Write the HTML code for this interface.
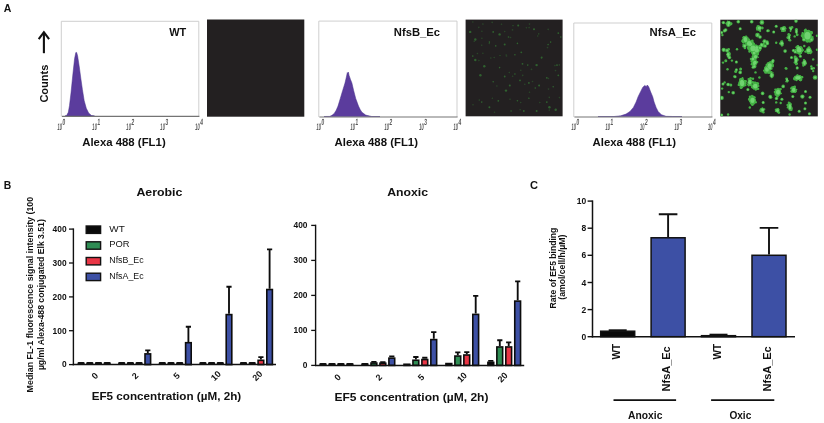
<!DOCTYPE html>
<html lang="en">
<head>
<meta charset="utf-8">
<title>Figure: EF5 binding in nitroreductase-expressing cells</title>
<style>
html,body{margin:0;padding:0;background:#fff;}
body{width:824px;height:423px;overflow:hidden;}
svg{display:block;font-family:"Liberation Sans", Arial, sans-serif;filter:blur(0.3px);}
</style>
</head>
<body>
<svg width="824" height="423" viewBox="0 0 824 423">
<rect width="824" height="423" fill="#ffffff"/>
<text x="3.80" y="11.90" font-size="10.2" font-weight="bold" fill="#111" textLength="7.60" lengthAdjust="spacingAndGlyphs">A</text>
<g stroke="#111" fill="none" stroke-width="2.1"><path d="M43.9 53.2V32.6"/><path d="M38.7 39.2L43.9 32.2L49.1 39.2" stroke-width="2.1"/></g>
<text x="48.20" y="102.60" font-size="10.5" font-weight="bold" fill="#111" textLength="38.00" lengthAdjust="spacingAndGlyphs" transform="rotate(-90 48.20 102.60)">Counts</text>
<path d="M61.3 116.4V21.3H198.8V116.4" fill="none" stroke="#c9c9c9" stroke-width="0.9"/>
<path d="M65.0 115.9 L66.6 115.6 L68.3 112.3 L69.5 105.5 L71.1 92.0 L72.9 74.0 L74.6 58.5 L75.8 52.6 L76.6 52.4 L77.6 55.8 L79.3 67.0 L80.8 78.2 L82.4 89.4 L84.2 100.7 L86.3 108.3 L88.6 112.9 L91.5 115.6 L94.5 115.9Z" fill="#5b3c9d" stroke="#46308a" stroke-width="0.5" stroke-linejoin="round"/>
<path d="M61.9 116.4H199.4" stroke="#747474" stroke-width="1.1"/>
<text x="169.20" y="36.20" font-size="10.5" font-weight="bold" fill="#111" textLength="17.00" lengthAdjust="spacingAndGlyphs">WT</text>
<g transform="translate(57.2 130.2) skewX(-4)" fill="#5a5a5a" font-weight="bold"><text transform="scale(0.43 1)" font-size="9.6">10</text><text transform="translate(4.7 -4.9) scale(0.56 1)" font-size="9">0</text></g>
<g transform="translate(92.1 130.2) skewX(-4)" fill="#5a5a5a" font-weight="bold"><text transform="scale(0.43 1)" font-size="9.6">10</text><text transform="translate(4.7 -4.9) scale(0.56 1)" font-size="9">1</text></g>
<g transform="translate(126.1 130.2) skewX(-4)" fill="#5a5a5a" font-weight="bold"><text transform="scale(0.43 1)" font-size="9.6">10</text><text transform="translate(4.7 -4.9) scale(0.56 1)" font-size="9">2</text></g>
<g transform="translate(160.1 130.2) skewX(-4)" fill="#5a5a5a" font-weight="bold"><text transform="scale(0.43 1)" font-size="9.6">10</text><text transform="translate(4.7 -4.9) scale(0.56 1)" font-size="9">3</text></g>
<g transform="translate(195.0 130.2) skewX(-4)" fill="#5a5a5a" font-weight="bold"><text transform="scale(0.43 1)" font-size="9.6">10</text><text transform="translate(4.7 -4.9) scale(0.56 1)" font-size="9">4</text></g>
<text x="82.20" y="146.10" font-size="10.6" font-weight="bold" fill="#111" textLength="83.50" lengthAdjust="spacingAndGlyphs">Alexa 488 (FL1)</text>
<path d="M318.8 117.0V21.1H457.0V117.0" fill="none" stroke="#c9c9c9" stroke-width="0.9"/>
<path d="M324.0 116.5 L329.6 116.4 L332.0 115.3 L334.2 113.5 L336.2 110.2 L338.0 106.1 L340.3 98.4 L342.6 90.7 L345.0 83.0 L346.6 76.0 L347.3 72.6 L347.9 73.6 L348.3 72.0 L349.1 75.4 L350.5 79.5 L351.9 83.0 L353.7 90.7 L355.7 98.4 L358.5 106.1 L360.2 109.6 L361.9 112.2 L365.7 115.1 L371.8 116.5 L380.0 116.5Z" fill="#5b3c9d" stroke="#46308a" stroke-width="0.5" stroke-linejoin="round"/>
<path d="M319.40000000000003 117.0H457.6" stroke="#747474" stroke-width="1.1"/>
<text x="393.80" y="36.40" font-size="10.5" font-weight="bold" fill="#111" textLength="46.20" lengthAdjust="spacingAndGlyphs">NfsB_Ec</text>
<g transform="translate(316.2 130.2) skewX(-4)" fill="#5a5a5a" font-weight="bold"><text transform="scale(0.43 1)" font-size="9.6">10</text><text transform="translate(4.7 -4.9) scale(0.56 1)" font-size="9">0</text></g>
<g transform="translate(350.2 130.2) skewX(-4)" fill="#5a5a5a" font-weight="bold"><text transform="scale(0.43 1)" font-size="9.6">10</text><text transform="translate(4.7 -4.9) scale(0.56 1)" font-size="9">1</text></g>
<g transform="translate(384.2 130.2) skewX(-4)" fill="#5a5a5a" font-weight="bold"><text transform="scale(0.43 1)" font-size="9.6">10</text><text transform="translate(4.7 -4.9) scale(0.56 1)" font-size="9">2</text></g>
<g transform="translate(419.0 130.2) skewX(-4)" fill="#5a5a5a" font-weight="bold"><text transform="scale(0.43 1)" font-size="9.6">10</text><text transform="translate(4.7 -4.9) scale(0.56 1)" font-size="9">3</text></g>
<g transform="translate(453.2 130.2) skewX(-4)" fill="#5a5a5a" font-weight="bold"><text transform="scale(0.43 1)" font-size="9.6">10</text><text transform="translate(4.7 -4.9) scale(0.56 1)" font-size="9">4</text></g>
<text x="334.50" y="146.10" font-size="10.6" font-weight="bold" fill="#111" textLength="83.50" lengthAdjust="spacingAndGlyphs">Alexa 488 (FL1)</text>
<path d="M573.8 117.0V23.0H711.8V117.0" fill="none" stroke="#c9c9c9" stroke-width="0.9"/>
<path d="M598.0 116.5 L608.0 116.5 L614.0 116.5 L620.7 115.8 L626.0 114.1 L630.0 111.4 L633.4 107.4 L636.1 102.0 L638.1 96.7 L640.7 91.4 L642.7 87.4 L644.7 85.4 L646.1 86.4 L647.4 85.1 L648.7 86.7 L650.7 92.0 L652.7 96.7 L654.1 102.0 L656.1 107.4 L658.1 111.4 L661.4 114.7 L666.1 116.3 L672.8 116.5 L682.0 116.5Z" fill="#5b3c9d" stroke="#46308a" stroke-width="0.5" stroke-linejoin="round"/>
<path d="M574.4 117.0H712.4" stroke="#747474" stroke-width="1.1"/>
<text x="649.50" y="36.30" font-size="10.5" font-weight="bold" fill="#111" textLength="46.50" lengthAdjust="spacingAndGlyphs">NfsA_Ec</text>
<g transform="translate(571.2 130.2) skewX(-4)" fill="#5a5a5a" font-weight="bold"><text transform="scale(0.43 1)" font-size="9.6">10</text><text transform="translate(4.7 -4.9) scale(0.56 1)" font-size="9">0</text></g>
<g transform="translate(605.2 130.2) skewX(-4)" fill="#5a5a5a" font-weight="bold"><text transform="scale(0.43 1)" font-size="9.6">10</text><text transform="translate(4.7 -4.9) scale(0.56 1)" font-size="9">1</text></g>
<g transform="translate(639.7 130.2) skewX(-4)" fill="#5a5a5a" font-weight="bold"><text transform="scale(0.43 1)" font-size="9.6">10</text><text transform="translate(4.7 -4.9) scale(0.56 1)" font-size="9">2</text></g>
<g transform="translate(674.2 130.2) skewX(-4)" fill="#5a5a5a" font-weight="bold"><text transform="scale(0.43 1)" font-size="9.6">10</text><text transform="translate(4.7 -4.9) scale(0.56 1)" font-size="9">3</text></g>
<g transform="translate(707.7 130.2) skewX(-4)" fill="#5a5a5a" font-weight="bold"><text transform="scale(0.43 1)" font-size="9.6">10</text><text transform="translate(4.7 -4.9) scale(0.56 1)" font-size="9">4</text></g>
<text x="592.50" y="146.10" font-size="10.6" font-weight="bold" fill="#111" textLength="83.50" lengthAdjust="spacingAndGlyphs">Alexa 488 (FL1)</text>
<rect x="207" y="19.5" width="97.3" height="97.2" fill="#232021"/>
<rect x="465.6" y="19.6" width="97" height="96.7" fill="#232021"/>
<rect x="720.3" y="19.7" width="97.5" height="96.7" fill="#232021"/>
<filter id="bl1" x="-5%" y="-5%" width="110%" height="110%"><feGaussianBlur stdDeviation="0.45"/></filter>
<filter id="bl2" x="-5%" y="-5%" width="110%" height="110%"><feGaussianBlur stdDeviation="0.4"/></filter>
<g fill="#347a34" opacity="0.72" filter="url(#bl1)">
<circle cx="518.2" cy="25.5" r="1.0"/>
<circle cx="493.2" cy="31.9" r="0.9"/>
<circle cx="499.6" cy="34.4" r="1.2"/>
<circle cx="508.5" cy="37.0" r="0.8"/>
<circle cx="489.4" cy="42.1" r="0.8"/>
<circle cx="495.7" cy="45.9" r="0.8"/>
<circle cx="504.7" cy="44.6" r="1.0"/>
<circle cx="517.4" cy="43.4" r="0.8"/>
<circle cx="521.3" cy="52.3" r="0.9"/>
<circle cx="514.9" cy="54.8" r="0.8"/>
<circle cx="472.8" cy="56.1" r="0.8"/>
<circle cx="475.3" cy="60.0" r="1.2"/>
<circle cx="484.3" cy="66.3" r="1.2"/>
<circle cx="499.6" cy="67.6" r="0.8"/>
<circle cx="522.5" cy="63.8" r="0.9"/>
<circle cx="527.7" cy="65.1" r="0.8"/>
<circle cx="536.6" cy="65.1" r="1.2"/>
<circle cx="548.1" cy="44.6" r="0.8"/>
<circle cx="550.6" cy="42.1" r="0.8"/>
<circle cx="558.3" cy="33.1" r="0.9"/>
<circle cx="560.8" cy="37.0" r="0.8"/>
<circle cx="480.4" cy="75.3" r="1.2"/>
<circle cx="493.2" cy="81.7" r="0.8"/>
<circle cx="504.7" cy="76.5" r="0.9"/>
<circle cx="514.9" cy="74.0" r="0.8"/>
<circle cx="520.0" cy="80.4" r="0.9"/>
<circle cx="509.8" cy="85.5" r="1.0"/>
<circle cx="506.0" cy="90.6" r="1.2"/>
<circle cx="528.9" cy="82.9" r="0.9"/>
<circle cx="535.3" cy="88.0" r="0.8"/>
<circle cx="539.1" cy="85.5" r="1.0"/>
<circle cx="546.8" cy="77.8" r="0.9"/>
<circle cx="553.2" cy="86.8" r="0.8"/>
<circle cx="498.3" cy="100.8" r="0.9"/>
<circle cx="489.4" cy="107.2" r="1.0"/>
<circle cx="481.7" cy="102.1" r="0.8"/>
<circle cx="517.4" cy="100.8" r="0.8"/>
<circle cx="528.9" cy="98.2" r="0.8"/>
<circle cx="546.8" cy="102.1" r="0.9"/>
<circle cx="549.4" cy="107.2" r="1.2"/>
<circle cx="555.7" cy="109.7" r="1.2"/>
<circle cx="536.6" cy="111.0" r="1.0"/>
<circle cx="475.3" cy="39.5" r="1.2"/>
<circle cx="470.2" cy="31.9" r="1.2"/>
<circle cx="534.0" cy="29.3" r="1.0"/>
<circle cx="541.7" cy="57.4" r="1.0"/>
<circle cx="557.0" cy="65.1" r="0.9"/>
<circle cx="558.3" cy="75.3" r="0.9"/>
<circle cx="523.8" cy="111.0" r="0.9"/>
<circle cx="511.1" cy="111.0" r="0.8"/>
</g><g fill="#2f5f2f" opacity="0.6" filter="url(#bl1)">
<circle cx="520.8" cy="70.3" r="0.8"/>
<circle cx="548.5" cy="89.1" r="0.8"/>
<circle cx="494.5" cy="112.2" r="0.8"/>
<circle cx="478.9" cy="60.5" r="0.8"/>
<circle cx="537.7" cy="36.0" r="0.8"/>
<circle cx="513.0" cy="25.6" r="0.8"/>
<circle cx="529.5" cy="92.3" r="0.8"/>
<circle cx="520.7" cy="102.5" r="0.8"/>
<circle cx="496.9" cy="86.0" r="0.8"/>
<circle cx="522.7" cy="75.4" r="0.8"/>
<circle cx="510.0" cy="99.3" r="0.8"/>
<circle cx="554.9" cy="65.6" r="0.8"/>
<circle cx="529.1" cy="27.6" r="0.8"/>
<circle cx="532.5" cy="81.5" r="0.8"/>
<circle cx="559.4" cy="97.6" r="0.8"/>
<circle cx="494.2" cy="57.5" r="0.8"/>
<circle cx="529.5" cy="24.1" r="0.8"/>
<circle cx="510.5" cy="37.5" r="0.8"/>
<circle cx="478.8" cy="27.4" r="0.8"/>
<circle cx="538.7" cy="33.9" r="0.8"/>
<circle cx="490.8" cy="58.0" r="0.8"/>
<circle cx="548.2" cy="29.4" r="0.8"/>
<circle cx="509.3" cy="72.5" r="0.8"/>
<circle cx="549.3" cy="97.4" r="0.8"/>
<circle cx="547.5" cy="47.6" r="0.8"/>
<circle cx="506.2" cy="55.0" r="0.8"/>
<circle cx="549.3" cy="110.1" r="0.8"/>
<circle cx="481.9" cy="38.2" r="0.8"/>
<circle cx="489.3" cy="43.5" r="0.8"/>
<circle cx="512.6" cy="76.2" r="0.8"/>
<circle cx="492.2" cy="22.4" r="0.8"/>
<circle cx="506.5" cy="56.0" r="0.8"/>
<circle cx="520.1" cy="109.7" r="0.8"/>
<circle cx="531.5" cy="69.4" r="0.8"/>
<circle cx="524.8" cy="84.2" r="0.8"/>
<circle cx="473.0" cy="104.8" r="0.8"/>
<circle cx="539.8" cy="102.5" r="0.8"/>
<circle cx="541.4" cy="58.1" r="0.8"/>
<circle cx="504.7" cy="31.5" r="0.8"/>
<circle cx="526.4" cy="27.7" r="0.8"/>
<circle cx="474.2" cy="41.2" r="0.8"/>
<circle cx="482.9" cy="53.3" r="0.8"/>
<circle cx="472.8" cy="22.0" r="0.8"/>
<circle cx="481.9" cy="31.3" r="0.8"/>
<circle cx="501.5" cy="24.3" r="0.8"/>
<circle cx="548.4" cy="78.5" r="0.8"/>
<circle cx="481.7" cy="45.2" r="0.8"/>
<circle cx="500.0" cy="55.5" r="0.8"/>
<circle cx="479.3" cy="100.1" r="0.8"/>
<circle cx="559.4" cy="64.9" r="0.8"/>
<circle cx="512.5" cy="29.9" r="0.8"/>
<circle cx="477.4" cy="53.5" r="0.8"/>
<circle cx="492.4" cy="98.3" r="0.8"/>
<circle cx="482.9" cy="24.1" r="0.8"/>
<circle cx="555.5" cy="70.6" r="0.8"/>
</g>
<clipPath id="c3"><rect x="720.3" y="19.7" width="97.5" height="96.7"/></clipPath>
<g clip-path="url(#c3)" filter="url(#bl2)"><g fill="#45b245">
<ellipse cx="728.8" cy="23.0" rx="2.0" ry="2.0"/>
<circle cx="726.9" cy="23.6" r="1.4"/>
<circle cx="726.9" cy="23.4" r="1.2"/>
<circle cx="729.5" cy="24.7" r="1.2"/>
<circle cx="729.1" cy="21.7" r="1.0"/>
<circle cx="730.6" cy="24.2" r="1.2"/>
<circle cx="731.1" cy="23.7" r="1.4"/>
<circle cx="727.6" cy="21.4" r="0.9"/>
<circle cx="730.6" cy="23.2" r="0.8"/>
<ellipse cx="725.6" cy="30.0" rx="1.8" ry="1.8"/>
<ellipse cx="721.7" cy="32.6" rx="1.5" ry="1.5"/>
<ellipse cx="722.4" cy="35.1" rx="1.2" ry="1.2"/>
<ellipse cx="738.3" cy="21.7" rx="1.8" ry="1.8"/>
<ellipse cx="740.2" cy="28.8" rx="1.5" ry="1.5"/>
<ellipse cx="751.7" cy="21.7" rx="1.8" ry="1.8"/>
<ellipse cx="761.9" cy="22.4" rx="2.3" ry="2.3"/>
<ellipse cx="759.4" cy="28.1" rx="2.4" ry="2.4"/>
<circle cx="760.1" cy="29.9" r="0.8"/>
<circle cx="757.2" cy="28.6" r="1.3"/>
<circle cx="756.9" cy="27.8" r="1.1"/>
<circle cx="758.2" cy="26.2" r="1.0"/>
<circle cx="762.4" cy="28.1" r="1.3"/>
<circle cx="758.8" cy="26.2" r="0.9"/>
<circle cx="759.0" cy="29.7" r="1.3"/>
<circle cx="757.1" cy="29.8" r="1.0"/>
<circle cx="762.1" cy="27.4" r="0.8"/>
<circle cx="760.1" cy="30.9" r="1.1"/>
<circle cx="761.5" cy="27.9" r="0.8"/>
<circle cx="757.5" cy="26.2" r="1.0"/>
<ellipse cx="757.5" cy="35.1" rx="2.3" ry="2.3"/>
<ellipse cx="760.0" cy="37.0" rx="1.8" ry="1.8"/>
<ellipse cx="767.7" cy="30.7" rx="1.5" ry="1.5"/>
<ellipse cx="767.0" cy="42.1" rx="1.8" ry="1.8"/>
<ellipse cx="765.1" cy="46.0" rx="1.8" ry="1.8"/>
<ellipse cx="745.3" cy="39.0" rx="2.8" ry="2.8"/>
<circle cx="747.3" cy="40.2" r="1.4"/>
<circle cx="745.4" cy="37.0" r="0.9"/>
<circle cx="746.8" cy="40.0" r="1.3"/>
<circle cx="746.5" cy="41.4" r="1.1"/>
<circle cx="746.4" cy="41.7" r="0.9"/>
<circle cx="744.1" cy="37.4" r="1.1"/>
<circle cx="745.8" cy="41.1" r="1.4"/>
<circle cx="746.1" cy="36.8" r="1.3"/>
<circle cx="745.9" cy="41.3" r="1.3"/>
<circle cx="744.1" cy="37.5" r="1.4"/>
<circle cx="745.8" cy="41.1" r="1.3"/>
<circle cx="744.3" cy="40.9" r="0.8"/>
<circle cx="747.6" cy="40.4" r="0.9"/>
<circle cx="743.4" cy="37.6" r="1.1"/>
<circle cx="747.8" cy="38.3" r="1.1"/>
<circle cx="746.7" cy="37.4" r="0.9"/>
<ellipse cx="749.2" cy="43.4" rx="3.3" ry="3.3"/>
<circle cx="752.3" cy="41.4" r="0.9"/>
<circle cx="750.5" cy="46.8" r="1.4"/>
<circle cx="750.5" cy="47.2" r="1.3"/>
<circle cx="746.8" cy="41.6" r="0.9"/>
<circle cx="753.1" cy="44.4" r="0.9"/>
<circle cx="748.4" cy="40.9" r="1.3"/>
<circle cx="747.0" cy="41.9" r="0.9"/>
<circle cx="748.8" cy="41.3" r="0.9"/>
<circle cx="745.6" cy="42.0" r="1.2"/>
<circle cx="748.4" cy="47.3" r="0.9"/>
<circle cx="751.8" cy="43.7" r="1.1"/>
<circle cx="751.4" cy="44.3" r="1.0"/>
<circle cx="747.1" cy="42.4" r="1.0"/>
<circle cx="752.3" cy="40.8" r="1.2"/>
<circle cx="748.0" cy="40.4" r="0.9"/>
<circle cx="751.2" cy="43.9" r="1.3"/>
<circle cx="747.9" cy="39.6" r="0.8"/>
<circle cx="747.2" cy="41.1" r="1.2"/>
<circle cx="747.4" cy="47.2" r="0.8"/>
<circle cx="745.7" cy="42.4" r="1.3"/>
<circle cx="748.9" cy="39.9" r="1.3"/>
<circle cx="751.6" cy="42.0" r="1.2"/>
<circle cx="752.3" cy="41.2" r="1.1"/>
<ellipse cx="753.0" cy="47.9" rx="3.5" ry="3.5"/>
<circle cx="754.0" cy="43.9" r="1.1"/>
<circle cx="750.8" cy="45.7" r="1.1"/>
<circle cx="751.1" cy="46.4" r="1.2"/>
<circle cx="757.1" cy="47.7" r="1.2"/>
<circle cx="750.1" cy="50.4" r="1.1"/>
<circle cx="749.2" cy="49.4" r="0.9"/>
<circle cx="753.0" cy="45.6" r="1.2"/>
<circle cx="750.3" cy="48.2" r="1.2"/>
<circle cx="749.4" cy="47.9" r="1.4"/>
<circle cx="752.9" cy="50.1" r="1.0"/>
<circle cx="751.8" cy="45.5" r="0.9"/>
<circle cx="756.0" cy="45.8" r="1.1"/>
<circle cx="755.3" cy="46.0" r="1.2"/>
<circle cx="754.0" cy="50.9" r="1.3"/>
<circle cx="756.5" cy="45.8" r="1.0"/>
<circle cx="750.5" cy="46.4" r="0.9"/>
<circle cx="748.9" cy="48.0" r="1.3"/>
<circle cx="752.0" cy="43.7" r="1.0"/>
<circle cx="754.5" cy="50.7" r="1.0"/>
<circle cx="753.7" cy="50.9" r="1.2"/>
<circle cx="750.1" cy="48.0" r="1.3"/>
<circle cx="756.2" cy="47.5" r="0.8"/>
<circle cx="757.0" cy="48.7" r="0.8"/>
<circle cx="752.1" cy="44.5" r="1.0"/>
<circle cx="753.6" cy="45.7" r="0.9"/>
<circle cx="750.8" cy="48.5" r="1.3"/>
<ellipse cx="756.8" cy="50.4" rx="3.1" ry="3.1"/>
<circle cx="757.0" cy="52.6" r="0.8"/>
<circle cx="754.9" cy="48.4" r="1.2"/>
<circle cx="754.9" cy="47.6" r="1.4"/>
<circle cx="755.9" cy="48.3" r="1.1"/>
<circle cx="757.7" cy="52.2" r="1.1"/>
<circle cx="756.3" cy="48.2" r="1.0"/>
<circle cx="755.0" cy="53.1" r="1.1"/>
<circle cx="754.3" cy="48.2" r="1.0"/>
<circle cx="757.8" cy="46.9" r="0.9"/>
<circle cx="759.8" cy="49.1" r="0.9"/>
<circle cx="753.8" cy="51.3" r="1.3"/>
<circle cx="754.7" cy="52.6" r="1.3"/>
<circle cx="757.9" cy="46.8" r="1.1"/>
<circle cx="755.5" cy="48.5" r="1.2"/>
<circle cx="758.1" cy="47.6" r="1.2"/>
<circle cx="757.7" cy="54.0" r="1.4"/>
<circle cx="759.8" cy="50.0" r="1.3"/>
<circle cx="755.2" cy="53.8" r="1.3"/>
<circle cx="755.6" cy="52.1" r="1.1"/>
<circle cx="753.6" cy="49.4" r="1.1"/>
<ellipse cx="755.5" cy="56.8" rx="2.4" ry="2.4"/>
<circle cx="758.2" cy="57.3" r="0.8"/>
<circle cx="756.1" cy="55.1" r="1.0"/>
<circle cx="755.9" cy="55.1" r="0.9"/>
<circle cx="752.9" cy="56.5" r="1.3"/>
<circle cx="754.4" cy="54.1" r="1.1"/>
<circle cx="757.1" cy="56.3" r="0.9"/>
<circle cx="753.6" cy="56.5" r="1.2"/>
<circle cx="754.1" cy="55.0" r="1.3"/>
<circle cx="753.7" cy="56.1" r="1.0"/>
<circle cx="757.2" cy="54.4" r="0.9"/>
<circle cx="757.3" cy="54.4" r="1.1"/>
<circle cx="753.9" cy="56.0" r="1.1"/>
<ellipse cx="754.9" cy="62.6" rx="2.6" ry="2.6"/>
<circle cx="752.3" cy="62.5" r="0.8"/>
<circle cx="757.4" cy="62.1" r="1.0"/>
<circle cx="755.7" cy="60.1" r="1.1"/>
<circle cx="754.3" cy="60.9" r="1.1"/>
<circle cx="752.1" cy="64.2" r="1.4"/>
<circle cx="754.6" cy="65.0" r="0.9"/>
<circle cx="752.2" cy="63.8" r="1.3"/>
<circle cx="752.7" cy="62.9" r="0.9"/>
<circle cx="752.6" cy="60.4" r="0.9"/>
<circle cx="755.2" cy="60.9" r="0.9"/>
<circle cx="755.3" cy="65.3" r="1.0"/>
<circle cx="753.3" cy="64.7" r="0.9"/>
<circle cx="754.7" cy="60.7" r="1.1"/>
<circle cx="754.9" cy="64.5" r="1.1"/>
<ellipse cx="760.0" cy="47.9" rx="2.1" ry="2.1"/>
<ellipse cx="744.7" cy="46.0" rx="1.8" ry="1.8"/>
<circle cx="743.3" cy="46.6" r="1.0"/>
<circle cx="743.4" cy="45.7" r="0.9"/>
<circle cx="743.5" cy="44.6" r="1.1"/>
<circle cx="745.8" cy="44.5" r="1.3"/>
<circle cx="744.9" cy="47.9" r="1.3"/>
<circle cx="745.9" cy="45.1" r="1.0"/>
<ellipse cx="754.3" cy="66.4" rx="2.1" ry="2.1"/>
<ellipse cx="723.7" cy="49.8" rx="2.1" ry="2.1"/>
<ellipse cx="728.8" cy="49.2" rx="1.2" ry="1.2"/>
<ellipse cx="728.1" cy="54.3" rx="1.8" ry="1.8"/>
<circle cx="729.3" cy="53.6" r="1.4"/>
<circle cx="729.1" cy="53.5" r="0.9"/>
<circle cx="727.9" cy="52.9" r="0.9"/>
<circle cx="728.9" cy="52.9" r="1.3"/>
<circle cx="729.2" cy="55.4" r="1.2"/>
<circle cx="729.4" cy="54.4" r="1.2"/>
<ellipse cx="729.4" cy="57.5" rx="1.8" ry="1.8"/>
<ellipse cx="737.0" cy="49.2" rx="1.2" ry="1.2"/>
<ellipse cx="731.9" cy="60.6" rx="1.2" ry="1.2"/>
<ellipse cx="736.4" cy="61.9" rx="1.5" ry="1.5"/>
<ellipse cx="723.0" cy="62.6" rx="1.2" ry="1.2"/>
<ellipse cx="769.6" cy="65.1" rx="2.8" ry="2.8"/>
<circle cx="772.4" cy="63.3" r="0.9"/>
<circle cx="766.5" cy="65.0" r="1.1"/>
<circle cx="768.8" cy="63.2" r="0.8"/>
<circle cx="771.0" cy="66.2" r="1.1"/>
<circle cx="766.9" cy="64.9" r="0.9"/>
<circle cx="770.4" cy="67.0" r="1.3"/>
<circle cx="772.9" cy="64.9" r="0.9"/>
<circle cx="772.7" cy="66.4" r="1.1"/>
<circle cx="769.8" cy="62.8" r="1.1"/>
<circle cx="767.1" cy="64.9" r="1.2"/>
<circle cx="772.5" cy="65.4" r="1.3"/>
<circle cx="770.6" cy="67.4" r="1.2"/>
<circle cx="767.9" cy="66.3" r="0.9"/>
<circle cx="767.8" cy="65.0" r="1.3"/>
<circle cx="770.5" cy="62.3" r="1.3"/>
<circle cx="767.9" cy="63.4" r="1.2"/>
<ellipse cx="766.4" cy="68.3" rx="2.3" ry="2.3"/>
<ellipse cx="727.1" cy="50.4" rx="2.0" ry="2.0"/>
<ellipse cx="728.3" cy="55.8" rx="1.7" ry="1.7"/>
<ellipse cx="725.8" cy="60.8" rx="1.5" ry="1.5"/>
<ellipse cx="740.6" cy="68.9" rx="1.5" ry="1.5"/>
<ellipse cx="735.7" cy="71.6" rx="1.5" ry="1.5"/>
<ellipse cx="734.4" cy="76.5" rx="1.2" ry="1.2"/>
<ellipse cx="723.4" cy="22.6" rx="1.7" ry="1.7"/>
<ellipse cx="728.3" cy="24.9" rx="2.0" ry="2.0"/>
<ellipse cx="724.6" cy="30.8" rx="1.7" ry="1.7"/>
<ellipse cx="730.8" cy="84.9" rx="1.5" ry="1.5"/>
<ellipse cx="724.6" cy="82.4" rx="1.2" ry="1.2"/>
<ellipse cx="722.1" cy="88.6" rx="1.2" ry="1.2"/>
<ellipse cx="752.9" cy="48.7" rx="3.5" ry="3.5"/>
<circle cx="748.5" cy="48.6" r="1.3"/>
<circle cx="752.7" cy="52.9" r="1.2"/>
<circle cx="753.6" cy="44.8" r="1.0"/>
<circle cx="756.2" cy="46.2" r="1.2"/>
<circle cx="753.3" cy="44.8" r="1.0"/>
<circle cx="752.5" cy="46.4" r="1.0"/>
<circle cx="750.7" cy="49.1" r="1.0"/>
<circle cx="750.6" cy="46.0" r="0.9"/>
<circle cx="756.4" cy="47.5" r="1.0"/>
<circle cx="751.0" cy="45.8" r="1.1"/>
<circle cx="749.5" cy="51.5" r="1.2"/>
<circle cx="751.7" cy="45.0" r="1.4"/>
<circle cx="756.4" cy="49.2" r="1.2"/>
<circle cx="752.8" cy="51.8" r="0.8"/>
<circle cx="753.9" cy="51.6" r="0.9"/>
<circle cx="752.9" cy="52.9" r="1.1"/>
<circle cx="748.5" cy="48.5" r="1.1"/>
<circle cx="756.5" cy="48.6" r="1.3"/>
<circle cx="756.0" cy="50.3" r="1.3"/>
<circle cx="757.0" cy="49.9" r="0.9"/>
<circle cx="750.3" cy="49.2" r="1.1"/>
<circle cx="751.1" cy="47.2" r="1.4"/>
<circle cx="749.9" cy="50.3" r="1.2"/>
<circle cx="751.0" cy="50.8" r="1.2"/>
<circle cx="750.3" cy="47.7" r="1.2"/>
<circle cx="752.3" cy="50.9" r="0.9"/>
<ellipse cx="745.5" cy="40.6" rx="2.3" ry="2.3"/>
<circle cx="747.1" cy="41.0" r="1.3"/>
<circle cx="743.4" cy="42.3" r="1.2"/>
<circle cx="748.2" cy="41.5" r="1.4"/>
<circle cx="748.0" cy="41.8" r="1.1"/>
<circle cx="742.7" cy="41.0" r="0.9"/>
<circle cx="742.8" cy="40.2" r="1.2"/>
<circle cx="742.7" cy="41.2" r="1.3"/>
<circle cx="744.2" cy="39.6" r="1.2"/>
<circle cx="743.8" cy="41.1" r="0.8"/>
<circle cx="743.9" cy="40.3" r="1.1"/>
<circle cx="744.5" cy="38.8" r="1.0"/>
<ellipse cx="750.4" cy="44.3" rx="2.5" ry="2.5"/>
<circle cx="748.5" cy="43.2" r="1.3"/>
<circle cx="747.4" cy="43.7" r="1.4"/>
<circle cx="750.2" cy="42.4" r="0.9"/>
<circle cx="752.6" cy="42.6" r="1.2"/>
<circle cx="749.2" cy="45.8" r="1.2"/>
<circle cx="748.2" cy="43.3" r="1.2"/>
<circle cx="750.5" cy="42.4" r="0.9"/>
<circle cx="753.4" cy="43.9" r="1.3"/>
<circle cx="752.0" cy="44.7" r="1.0"/>
<circle cx="748.2" cy="45.4" r="0.9"/>
<circle cx="748.8" cy="43.9" r="0.9"/>
<circle cx="749.4" cy="42.1" r="1.2"/>
<circle cx="748.8" cy="45.9" r="0.9"/>
<ellipse cx="756.6" cy="47.5" rx="2.3" ry="2.3"/>
<circle cx="755.2" cy="49.6" r="1.3"/>
<circle cx="758.0" cy="48.2" r="1.3"/>
<circle cx="754.8" cy="45.7" r="0.9"/>
<circle cx="755.0" cy="48.3" r="1.3"/>
<circle cx="755.0" cy="49.2" r="1.4"/>
<circle cx="755.6" cy="49.5" r="1.2"/>
<circle cx="758.4" cy="46.5" r="1.0"/>
<circle cx="758.8" cy="49.0" r="0.8"/>
<circle cx="758.5" cy="48.6" r="1.1"/>
<circle cx="755.8" cy="45.8" r="1.3"/>
<circle cx="758.1" cy="48.3" r="1.2"/>
<ellipse cx="761.7" cy="45.0" rx="1.8" ry="1.8"/>
<circle cx="763.0" cy="45.7" r="1.2"/>
<circle cx="761.3" cy="43.7" r="0.9"/>
<circle cx="760.5" cy="46.5" r="1.0"/>
<circle cx="763.1" cy="46.3" r="1.1"/>
<circle cx="763.6" cy="44.0" r="1.3"/>
<circle cx="759.9" cy="45.8" r="1.0"/>
<ellipse cx="764.5" cy="41.3" rx="2.0" ry="2.0"/>
<ellipse cx="754.1" cy="52.9" rx="2.1" ry="2.1"/>
<circle cx="753.4" cy="54.6" r="1.4"/>
<circle cx="755.4" cy="51.9" r="1.0"/>
<circle cx="752.9" cy="54.2" r="1.0"/>
<circle cx="752.9" cy="53.9" r="1.1"/>
<circle cx="754.7" cy="50.9" r="1.3"/>
<circle cx="752.7" cy="52.3" r="1.3"/>
<circle cx="755.4" cy="51.7" r="0.8"/>
<circle cx="752.1" cy="52.7" r="1.1"/>
<circle cx="756.3" cy="52.4" r="1.3"/>
<ellipse cx="752.9" cy="59.0" rx="1.9" ry="1.9"/>
<circle cx="754.6" cy="59.8" r="1.3"/>
<circle cx="754.0" cy="59.7" r="1.2"/>
<circle cx="754.0" cy="58.3" r="1.2"/>
<circle cx="754.2" cy="60.7" r="1.2"/>
<circle cx="752.9" cy="60.5" r="1.3"/>
<circle cx="750.8" cy="58.7" r="1.0"/>
<circle cx="751.6" cy="61.1" r="1.2"/>
<circle cx="751.0" cy="59.1" r="1.2"/>
<ellipse cx="754.1" cy="64.0" rx="2.2" ry="2.2"/>
<ellipse cx="807.5" cy="33.7" rx="2.5" ry="2.5"/>
<circle cx="806.7" cy="30.8" r="1.0"/>
<circle cx="808.7" cy="31.4" r="1.3"/>
<circle cx="808.5" cy="31.0" r="1.3"/>
<circle cx="809.9" cy="33.0" r="1.1"/>
<circle cx="806.8" cy="31.0" r="1.1"/>
<circle cx="805.9" cy="34.6" r="1.2"/>
<circle cx="809.6" cy="33.6" r="0.9"/>
<circle cx="808.1" cy="35.8" r="1.0"/>
<circle cx="809.1" cy="33.4" r="1.0"/>
<circle cx="809.4" cy="35.4" r="1.3"/>
<circle cx="808.2" cy="35.2" r="1.1"/>
<circle cx="804.9" cy="32.2" r="0.8"/>
<circle cx="808.9" cy="34.9" r="0.9"/>
<ellipse cx="811.4" cy="39.6" rx="2.2" ry="2.2"/>
<ellipse cx="804.0" cy="39.6" rx="2.0" ry="2.0"/>
<ellipse cx="798.6" cy="48.0" rx="2.1" ry="2.1"/>
<circle cx="798.8" cy="50.2" r="1.2"/>
<circle cx="798.9" cy="49.5" r="1.0"/>
<circle cx="799.7" cy="50.0" r="1.0"/>
<circle cx="796.3" cy="47.3" r="1.1"/>
<circle cx="798.5" cy="50.5" r="1.3"/>
<circle cx="797.5" cy="49.7" r="1.4"/>
<circle cx="797.0" cy="48.1" r="0.8"/>
<circle cx="800.9" cy="47.2" r="1.0"/>
<circle cx="796.7" cy="47.6" r="1.0"/>
<ellipse cx="795.2" cy="51.9" rx="1.7" ry="1.7"/>
<ellipse cx="808.5" cy="50.4" rx="2.2" ry="2.2"/>
<ellipse cx="796.2" cy="59.3" rx="2.2" ry="2.2"/>
<ellipse cx="804.5" cy="61.7" rx="1.7" ry="1.7"/>
<ellipse cx="741.8" cy="81.2" rx="2.1" ry="2.1"/>
<circle cx="744.0" cy="81.0" r="0.9"/>
<circle cx="743.8" cy="81.3" r="1.0"/>
<circle cx="742.5" cy="79.0" r="1.2"/>
<circle cx="742.7" cy="82.5" r="1.0"/>
<circle cx="741.7" cy="83.7" r="1.1"/>
<circle cx="740.1" cy="79.2" r="1.0"/>
<circle cx="740.3" cy="80.8" r="1.3"/>
<circle cx="744.2" cy="81.2" r="1.3"/>
<circle cx="742.5" cy="79.9" r="1.0"/>
<ellipse cx="749.7" cy="82.4" rx="2.2" ry="2.2"/>
<ellipse cx="754.6" cy="86.3" rx="1.9" ry="1.9"/>
<circle cx="754.3" cy="85.0" r="1.1"/>
<circle cx="752.3" cy="86.8" r="1.2"/>
<circle cx="755.6" cy="85.1" r="1.3"/>
<circle cx="752.6" cy="87.5" r="0.9"/>
<circle cx="755.3" cy="85.0" r="1.1"/>
<circle cx="753.2" cy="86.1" r="1.3"/>
<circle cx="754.0" cy="87.8" r="0.8"/>
<circle cx="754.0" cy="88.0" r="1.2"/>
<ellipse cx="777.5" cy="92.2" rx="2.1" ry="2.1"/>
<circle cx="776.1" cy="94.0" r="0.9"/>
<circle cx="776.0" cy="93.4" r="1.4"/>
<circle cx="778.5" cy="90.3" r="0.8"/>
<circle cx="775.9" cy="93.8" r="0.9"/>
<circle cx="775.7" cy="91.5" r="0.8"/>
<circle cx="779.9" cy="92.1" r="0.9"/>
<circle cx="776.2" cy="91.1" r="1.0"/>
<circle cx="775.8" cy="91.8" r="1.0"/>
<circle cx="775.8" cy="93.6" r="1.0"/>
<ellipse cx="776.5" cy="98.4" rx="1.7" ry="1.7"/>
<ellipse cx="768.9" cy="66.4" rx="2.1" ry="2.1"/>
<circle cx="769.6" cy="68.6" r="1.0"/>
<circle cx="770.8" cy="65.7" r="1.2"/>
<circle cx="767.7" cy="68.5" r="0.9"/>
<circle cx="769.8" cy="67.5" r="1.2"/>
<circle cx="768.5" cy="64.9" r="1.0"/>
<circle cx="770.0" cy="64.6" r="0.9"/>
<circle cx="769.1" cy="67.9" r="0.9"/>
<circle cx="767.7" cy="67.2" r="1.4"/>
<circle cx="767.1" cy="67.3" r="1.2"/>
<ellipse cx="772.6" cy="61.7" rx="1.7" ry="1.7"/>
<ellipse cx="771.6" cy="75.0" rx="1.7" ry="1.7"/>
<ellipse cx="752.9" cy="99.6" rx="1.9" ry="1.9"/>
<circle cx="753.1" cy="97.4" r="1.0"/>
<circle cx="752.0" cy="101.1" r="0.8"/>
<circle cx="751.2" cy="100.8" r="1.4"/>
<circle cx="753.4" cy="97.7" r="1.2"/>
<circle cx="754.5" cy="99.8" r="1.0"/>
<circle cx="752.1" cy="98.5" r="1.0"/>
<circle cx="750.7" cy="99.5" r="1.3"/>
<circle cx="751.8" cy="98.7" r="1.3"/>
<ellipse cx="799.6" cy="77.5" rx="2.2" ry="2.2"/>
<ellipse cx="793.7" cy="88.8" rx="1.7" ry="1.7"/>
<ellipse cx="796.0" cy="21.1" rx="1.8" ry="1.8"/>
<ellipse cx="776.2" cy="26.2" rx="1.5" ry="1.5"/>
<ellipse cx="768.6" cy="30.7" rx="1.2" ry="1.2"/>
<ellipse cx="773.7" cy="31.9" rx="1.5" ry="1.5"/>
<ellipse cx="783.2" cy="28.8" rx="2.2" ry="2.2"/>
<circle cx="785.0" cy="27.5" r="1.0"/>
<circle cx="781.6" cy="28.8" r="1.2"/>
<circle cx="785.3" cy="28.6" r="1.2"/>
<circle cx="784.1" cy="27.3" r="1.4"/>
<circle cx="782.1" cy="27.6" r="0.8"/>
<circle cx="783.3" cy="30.9" r="1.2"/>
<circle cx="782.0" cy="31.1" r="1.0"/>
<circle cx="781.7" cy="29.1" r="1.4"/>
<circle cx="784.9" cy="30.7" r="1.1"/>
<circle cx="781.2" cy="28.0" r="1.0"/>
<ellipse cx="790.9" cy="28.8" rx="1.2" ry="2.0"/>
<circle cx="792.1" cy="27.4" r="1.3"/>
<circle cx="790.2" cy="27.9" r="1.3"/>
<circle cx="790.5" cy="31.0" r="0.9"/>
<circle cx="789.6" cy="27.7" r="0.9"/>
<circle cx="790.1" cy="28.4" r="0.8"/>
<ellipse cx="796.6" cy="31.6" rx="1.1" ry="2.9"/>
<circle cx="797.2" cy="34.8" r="1.4"/>
<circle cx="796.1" cy="29.6" r="1.2"/>
<circle cx="796.5" cy="29.1" r="1.2"/>
<circle cx="796.8" cy="29.8" r="0.9"/>
<circle cx="795.8" cy="32.0" r="1.0"/>
<circle cx="795.9" cy="30.7" r="1.1"/>
<ellipse cx="789.2" cy="37.3" rx="1.2" ry="3.0"/>
<circle cx="789.1" cy="40.2" r="1.0"/>
<circle cx="788.7" cy="35.8" r="1.2"/>
<circle cx="790.1" cy="40.2" r="1.2"/>
<circle cx="788.2" cy="37.8" r="1.2"/>
<circle cx="788.7" cy="34.3" r="1.3"/>
<circle cx="787.7" cy="37.6" r="1.3"/>
<circle cx="789.9" cy="35.2" r="1.1"/>
<ellipse cx="794.7" cy="36.4" rx="1.2" ry="1.2"/>
<ellipse cx="807.5" cy="35.8" rx="4.4" ry="5.3"/>
<circle cx="802.6" cy="33.2" r="1.1"/>
<circle cx="803.6" cy="35.0" r="1.3"/>
<circle cx="806.2" cy="38.9" r="1.2"/>
<circle cx="811.3" cy="32.4" r="1.2"/>
<circle cx="807.5" cy="31.5" r="1.2"/>
<circle cx="810.3" cy="37.3" r="1.1"/>
<circle cx="803.6" cy="35.7" r="0.8"/>
<circle cx="806.0" cy="31.0" r="0.9"/>
<circle cx="806.1" cy="40.1" r="0.9"/>
<circle cx="812.2" cy="38.4" r="1.4"/>
<circle cx="804.9" cy="30.4" r="1.1"/>
<circle cx="808.6" cy="32.0" r="1.2"/>
<circle cx="802.7" cy="33.2" r="0.9"/>
<circle cx="808.3" cy="32.2" r="1.1"/>
<circle cx="810.1" cy="34.8" r="0.9"/>
<circle cx="806.3" cy="39.9" r="0.8"/>
<circle cx="811.4" cy="32.1" r="1.0"/>
<circle cx="804.7" cy="39.9" r="0.8"/>
<circle cx="812.6" cy="37.0" r="1.0"/>
<circle cx="802.1" cy="35.8" r="1.4"/>
<circle cx="804.2" cy="36.5" r="1.0"/>
<circle cx="812.1" cy="32.8" r="0.9"/>
<circle cx="809.4" cy="32.0" r="1.1"/>
<circle cx="809.9" cy="41.3" r="1.4"/>
<circle cx="808.8" cy="40.9" r="0.9"/>
<circle cx="809.6" cy="33.4" r="0.9"/>
<circle cx="806.9" cy="31.5" r="1.3"/>
<circle cx="810.7" cy="31.6" r="0.9"/>
<circle cx="805.7" cy="29.7" r="1.1"/>
<circle cx="810.4" cy="37.7" r="1.0"/>
<circle cx="806.6" cy="31.9" r="0.9"/>
<circle cx="807.9" cy="41.3" r="1.3"/>
<circle cx="804.3" cy="39.7" r="1.3"/>
<circle cx="804.6" cy="33.6" r="1.0"/>
<circle cx="811.6" cy="33.3" r="1.0"/>
<circle cx="805.5" cy="33.0" r="1.4"/>
<circle cx="803.5" cy="37.6" r="1.1"/>
<circle cx="811.7" cy="37.3" r="1.0"/>
<circle cx="807.4" cy="41.7" r="0.9"/>
<circle cx="806.4" cy="41.4" r="0.9"/>
<circle cx="806.7" cy="40.8" r="0.9"/>
<circle cx="811.8" cy="31.8" r="0.8"/>
<circle cx="802.8" cy="37.2" r="1.0"/>
<circle cx="811.2" cy="33.6" r="0.9"/>
<circle cx="803.2" cy="33.9" r="1.0"/>
<circle cx="804.8" cy="30.8" r="1.1"/>
<circle cx="802.4" cy="35.6" r="1.2"/>
<circle cx="802.1" cy="34.9" r="0.9"/>
<circle cx="808.0" cy="32.0" r="1.2"/>
<ellipse cx="817.0" cy="35.8" rx="1.2" ry="1.2"/>
<ellipse cx="767.3" cy="43.4" rx="1.8" ry="1.8"/>
<ellipse cx="776.2" cy="42.8" rx="1.2" ry="1.2"/>
<ellipse cx="781.9" cy="43.4" rx="2.0" ry="2.0"/>
<circle cx="782.1" cy="45.2" r="1.3"/>
<circle cx="782.4" cy="41.3" r="0.9"/>
<circle cx="780.4" cy="43.5" r="1.1"/>
<circle cx="780.7" cy="43.4" r="1.2"/>
<circle cx="781.5" cy="41.5" r="1.3"/>
<circle cx="782.6" cy="44.7" r="0.8"/>
<circle cx="780.2" cy="43.5" r="1.1"/>
<circle cx="781.8" cy="45.6" r="0.8"/>
<ellipse cx="785.1" cy="51.1" rx="1.8" ry="1.8"/>
<ellipse cx="799.2" cy="50.2" rx="3.3" ry="3.5"/>
<circle cx="801.9" cy="48.3" r="1.1"/>
<circle cx="799.8" cy="47.5" r="0.9"/>
<circle cx="798.4" cy="52.3" r="1.0"/>
<circle cx="796.9" cy="47.9" r="1.0"/>
<circle cx="797.3" cy="48.9" r="1.3"/>
<circle cx="800.4" cy="52.6" r="0.9"/>
<circle cx="797.8" cy="46.4" r="1.3"/>
<circle cx="801.9" cy="51.3" r="1.0"/>
<circle cx="800.0" cy="54.4" r="0.8"/>
<circle cx="795.5" cy="50.4" r="1.4"/>
<circle cx="801.0" cy="52.7" r="1.2"/>
<circle cx="801.6" cy="50.9" r="1.3"/>
<circle cx="801.0" cy="52.6" r="1.0"/>
<circle cx="797.2" cy="51.3" r="0.8"/>
<circle cx="802.8" cy="50.1" r="1.2"/>
<circle cx="799.5" cy="52.9" r="1.1"/>
<circle cx="799.3" cy="53.4" r="1.4"/>
<circle cx="797.3" cy="52.4" r="1.4"/>
<circle cx="797.5" cy="48.7" r="1.0"/>
<circle cx="797.9" cy="48.3" r="1.0"/>
<circle cx="797.9" cy="46.3" r="1.2"/>
<circle cx="801.4" cy="48.1" r="1.0"/>
<circle cx="800.7" cy="47.6" r="1.3"/>
<circle cx="799.8" cy="53.1" r="0.9"/>
<ellipse cx="800.4" cy="56.2" rx="1.5" ry="1.5"/>
<ellipse cx="793.4" cy="50.4" rx="1.5" ry="1.5"/>
<ellipse cx="804.3" cy="46.0" rx="1.2" ry="1.2"/>
<ellipse cx="808.7" cy="50.4" rx="2.8" ry="2.8"/>
<circle cx="806.8" cy="49.8" r="0.9"/>
<circle cx="809.3" cy="52.9" r="1.0"/>
<circle cx="805.5" cy="51.6" r="1.2"/>
<circle cx="810.1" cy="48.9" r="1.0"/>
<circle cx="811.3" cy="51.7" r="1.0"/>
<circle cx="808.5" cy="52.2" r="0.9"/>
<circle cx="808.5" cy="52.8" r="1.4"/>
<circle cx="808.3" cy="48.3" r="1.0"/>
<circle cx="810.6" cy="53.2" r="1.0"/>
<circle cx="809.0" cy="47.5" r="1.3"/>
<circle cx="811.0" cy="50.7" r="1.0"/>
<circle cx="811.5" cy="52.1" r="1.0"/>
<circle cx="809.1" cy="47.8" r="0.8"/>
<circle cx="807.1" cy="51.8" r="0.8"/>
<circle cx="810.3" cy="52.7" r="0.8"/>
<circle cx="807.8" cy="52.7" r="1.1"/>
<ellipse cx="817.0" cy="49.8" rx="1.2" ry="1.2"/>
<ellipse cx="791.5" cy="57.5" rx="1.5" ry="1.5"/>
<ellipse cx="796.0" cy="60.6" rx="1.5" ry="3.7"/>
<circle cx="797.1" cy="63.7" r="1.0"/>
<circle cx="795.7" cy="56.8" r="0.9"/>
<circle cx="796.3" cy="63.5" r="1.2"/>
<circle cx="794.9" cy="62.5" r="1.3"/>
<circle cx="796.2" cy="63.6" r="1.0"/>
<circle cx="796.2" cy="63.0" r="0.8"/>
<circle cx="794.9" cy="58.0" r="1.3"/>
<circle cx="797.2" cy="60.2" r="1.2"/>
<circle cx="797.0" cy="59.3" r="1.2"/>
<circle cx="795.0" cy="56.7" r="1.3"/>
<circle cx="796.1" cy="64.4" r="0.9"/>
<circle cx="794.8" cy="62.1" r="0.8"/>
<ellipse cx="804.5" cy="62.8" rx="1.9" ry="3.0"/>
<circle cx="803.4" cy="64.5" r="1.1"/>
<circle cx="804.3" cy="64.9" r="1.0"/>
<circle cx="803.2" cy="63.1" r="1.2"/>
<circle cx="804.6" cy="64.8" r="1.0"/>
<circle cx="803.3" cy="63.8" r="1.1"/>
<circle cx="804.0" cy="60.1" r="1.2"/>
<circle cx="806.1" cy="63.2" r="1.0"/>
<circle cx="806.0" cy="63.8" r="0.8"/>
<circle cx="802.7" cy="62.9" r="1.1"/>
<circle cx="803.8" cy="64.9" r="0.8"/>
<circle cx="803.3" cy="65.7" r="1.1"/>
<ellipse cx="813.2" cy="59.4" rx="1.2" ry="1.2"/>
<ellipse cx="773.0" cy="60.6" rx="1.5" ry="1.5"/>
<ellipse cx="769.8" cy="65.7" rx="2.8" ry="2.8"/>
<circle cx="769.6" cy="68.6" r="0.9"/>
<circle cx="767.1" cy="66.3" r="1.4"/>
<circle cx="768.1" cy="67.8" r="1.4"/>
<circle cx="770.2" cy="63.0" r="1.2"/>
<circle cx="767.8" cy="67.0" r="1.0"/>
<circle cx="771.4" cy="62.9" r="1.0"/>
<circle cx="771.3" cy="64.8" r="0.9"/>
<circle cx="767.6" cy="65.6" r="1.0"/>
<circle cx="771.8" cy="65.5" r="0.9"/>
<circle cx="770.2" cy="68.6" r="0.9"/>
<circle cx="772.5" cy="65.8" r="1.0"/>
<circle cx="770.0" cy="68.3" r="1.2"/>
<circle cx="767.2" cy="64.9" r="1.1"/>
<circle cx="771.5" cy="62.8" r="1.0"/>
<circle cx="768.0" cy="68.4" r="1.0"/>
<circle cx="769.2" cy="62.9" r="1.2"/>
<ellipse cx="785.8" cy="68.3" rx="1.2" ry="1.2"/>
<ellipse cx="797.2" cy="67.7" rx="1.2" ry="1.2"/>
<ellipse cx="811.3" cy="66.4" rx="1.2" ry="1.2"/>
<ellipse cx="813.8" cy="68.3" rx="1.2" ry="1.2"/>
<ellipse cx="817.7" cy="65.1" rx="1.2" ry="1.2"/>
<ellipse cx="727.5" cy="69.2" rx="1.2" ry="1.2"/>
<ellipse cx="736.4" cy="69.8" rx="1.5" ry="1.5"/>
<ellipse cx="740.2" cy="72.4" rx="1.8" ry="1.8"/>
<ellipse cx="735.1" cy="76.8" rx="1.5" ry="1.5"/>
<ellipse cx="753.0" cy="67.3" rx="1.5" ry="1.5"/>
<ellipse cx="755.5" cy="72.4" rx="1.2" ry="1.2"/>
<ellipse cx="759.4" cy="77.5" rx="1.2" ry="1.2"/>
<ellipse cx="767.0" cy="69.8" rx="2.8" ry="2.8"/>
<circle cx="770.1" cy="69.1" r="0.9"/>
<circle cx="765.2" cy="68.1" r="1.1"/>
<circle cx="765.5" cy="71.4" r="1.2"/>
<circle cx="764.9" cy="69.4" r="0.9"/>
<circle cx="766.1" cy="71.6" r="1.1"/>
<circle cx="768.3" cy="71.1" r="0.8"/>
<circle cx="769.4" cy="71.6" r="0.9"/>
<circle cx="764.1" cy="70.7" r="1.1"/>
<circle cx="768.7" cy="72.6" r="1.3"/>
<circle cx="769.1" cy="70.5" r="1.1"/>
<circle cx="767.7" cy="67.5" r="1.2"/>
<circle cx="767.0" cy="72.8" r="1.0"/>
<circle cx="765.5" cy="72.4" r="1.3"/>
<circle cx="768.3" cy="67.4" r="1.1"/>
<circle cx="766.3" cy="67.1" r="1.3"/>
<circle cx="767.6" cy="68.0" r="1.0"/>
<ellipse cx="771.5" cy="74.9" rx="1.5" ry="1.5"/>
<ellipse cx="742.1" cy="83.2" rx="3.1" ry="4.2"/>
<circle cx="741.0" cy="80.4" r="0.9"/>
<circle cx="745.2" cy="83.6" r="1.4"/>
<circle cx="744.3" cy="82.7" r="1.2"/>
<circle cx="739.4" cy="85.3" r="1.0"/>
<circle cx="745.7" cy="81.1" r="0.8"/>
<circle cx="741.7" cy="80.4" r="0.8"/>
<circle cx="741.4" cy="87.6" r="1.4"/>
<circle cx="744.0" cy="85.6" r="0.8"/>
<circle cx="739.4" cy="82.2" r="1.0"/>
<circle cx="740.9" cy="87.6" r="1.3"/>
<circle cx="741.6" cy="86.8" r="1.2"/>
<circle cx="742.5" cy="78.1" r="1.0"/>
<circle cx="741.1" cy="79.4" r="1.3"/>
<circle cx="743.5" cy="85.7" r="0.9"/>
<circle cx="744.4" cy="81.9" r="1.1"/>
<circle cx="744.0" cy="85.6" r="0.8"/>
<circle cx="740.1" cy="82.0" r="1.2"/>
<circle cx="741.8" cy="86.4" r="1.1"/>
<circle cx="740.5" cy="85.7" r="0.8"/>
<circle cx="745.5" cy="85.2" r="1.0"/>
<circle cx="744.2" cy="84.7" r="1.1"/>
<circle cx="744.5" cy="83.2" r="1.3"/>
<circle cx="739.4" cy="83.6" r="1.3"/>
<circle cx="740.5" cy="84.9" r="1.1"/>
<circle cx="740.4" cy="79.7" r="1.0"/>
<circle cx="745.5" cy="81.4" r="1.4"/>
<circle cx="738.8" cy="84.9" r="1.2"/>
<ellipse cx="749.8" cy="82.2" rx="2.1" ry="3.5"/>
<circle cx="750.4" cy="84.2" r="0.9"/>
<circle cx="750.8" cy="83.8" r="1.0"/>
<circle cx="749.8" cy="79.3" r="1.1"/>
<circle cx="751.4" cy="82.4" r="1.4"/>
<circle cx="751.8" cy="82.4" r="1.3"/>
<circle cx="750.4" cy="78.5" r="1.0"/>
<circle cx="750.6" cy="78.4" r="1.3"/>
<circle cx="751.2" cy="82.0" r="1.4"/>
<circle cx="748.0" cy="84.4" r="1.0"/>
<circle cx="750.9" cy="81.0" r="1.1"/>
<circle cx="750.1" cy="85.2" r="1.0"/>
<circle cx="748.5" cy="78.9" r="1.0"/>
<circle cx="748.7" cy="79.9" r="1.0"/>
<circle cx="751.2" cy="80.6" r="0.9"/>
<circle cx="748.6" cy="85.5" r="0.9"/>
<ellipse cx="753.0" cy="78.8" rx="1.2" ry="1.2"/>
<ellipse cx="755.3" cy="86.2" rx="3.0" ry="3.5"/>
<circle cx="755.2" cy="82.7" r="1.2"/>
<circle cx="756.2" cy="88.3" r="0.9"/>
<circle cx="753.7" cy="88.7" r="0.8"/>
<circle cx="752.7" cy="86.1" r="1.0"/>
<circle cx="751.8" cy="85.2" r="0.9"/>
<circle cx="757.1" cy="84.2" r="1.3"/>
<circle cx="758.2" cy="88.9" r="1.1"/>
<circle cx="757.5" cy="85.5" r="1.0"/>
<circle cx="754.7" cy="83.7" r="1.0"/>
<circle cx="753.7" cy="82.3" r="1.0"/>
<circle cx="756.3" cy="88.9" r="1.4"/>
<circle cx="757.1" cy="89.0" r="1.0"/>
<circle cx="753.9" cy="84.1" r="1.2"/>
<circle cx="757.9" cy="83.5" r="1.2"/>
<circle cx="752.4" cy="86.0" r="0.9"/>
<circle cx="756.9" cy="83.0" r="1.1"/>
<circle cx="753.9" cy="83.5" r="1.0"/>
<circle cx="755.7" cy="89.7" r="1.1"/>
<circle cx="753.4" cy="85.9" r="1.2"/>
<circle cx="752.5" cy="87.3" r="1.2"/>
<circle cx="757.2" cy="85.1" r="1.1"/>
<circle cx="758.5" cy="86.0" r="1.0"/>
<ellipse cx="723.0" cy="83.9" rx="1.5" ry="1.5"/>
<ellipse cx="728.1" cy="84.5" rx="1.8" ry="1.8"/>
<ellipse cx="747.9" cy="89.6" rx="1.5" ry="1.5"/>
<ellipse cx="728.8" cy="92.1" rx="1.2" ry="1.2"/>
<ellipse cx="733.2" cy="92.8" rx="1.8" ry="1.8"/>
<ellipse cx="721.7" cy="97.9" rx="2.1" ry="2.1"/>
<ellipse cx="762.6" cy="93.4" rx="1.8" ry="1.8"/>
<ellipse cx="770.2" cy="96.6" rx="1.8" ry="1.8"/>
<ellipse cx="752.4" cy="100.4" rx="3.1" ry="3.7"/>
<circle cx="752.0" cy="95.8" r="1.0"/>
<circle cx="753.8" cy="98.5" r="1.4"/>
<circle cx="750.0" cy="100.6" r="1.3"/>
<circle cx="750.1" cy="96.8" r="1.3"/>
<circle cx="753.2" cy="97.1" r="1.4"/>
<circle cx="755.7" cy="102.2" r="1.2"/>
<circle cx="752.3" cy="104.7" r="1.1"/>
<circle cx="748.8" cy="99.5" r="0.9"/>
<circle cx="751.8" cy="104.2" r="0.8"/>
<circle cx="749.1" cy="99.0" r="1.1"/>
<circle cx="752.5" cy="104.6" r="1.3"/>
<circle cx="752.7" cy="96.8" r="1.3"/>
<circle cx="753.0" cy="97.9" r="1.0"/>
<circle cx="754.0" cy="101.9" r="1.0"/>
<circle cx="754.7" cy="97.2" r="0.9"/>
<circle cx="753.5" cy="103.4" r="1.3"/>
<circle cx="749.6" cy="97.5" r="0.8"/>
<circle cx="754.7" cy="100.2" r="1.2"/>
<circle cx="754.7" cy="97.6" r="0.9"/>
<circle cx="751.0" cy="97.5" r="0.8"/>
<circle cx="751.0" cy="103.0" r="1.2"/>
<circle cx="751.8" cy="104.1" r="1.2"/>
<circle cx="753.3" cy="102.8" r="1.2"/>
<circle cx="750.2" cy="101.0" r="0.9"/>
<ellipse cx="763.2" cy="102.4" rx="1.5" ry="1.5"/>
<ellipse cx="749.8" cy="107.5" rx="1.2" ry="1.2"/>
<ellipse cx="762.6" cy="110.0" rx="2.0" ry="2.0"/>
<circle cx="764.4" cy="109.3" r="1.0"/>
<circle cx="763.4" cy="112.3" r="1.2"/>
<circle cx="762.4" cy="108.3" r="1.0"/>
<circle cx="761.4" cy="110.8" r="1.2"/>
<circle cx="760.5" cy="111.0" r="1.0"/>
<circle cx="760.8" cy="110.5" r="1.4"/>
<circle cx="761.4" cy="111.7" r="0.9"/>
<circle cx="761.2" cy="109.2" r="1.3"/>
<ellipse cx="721.7" cy="115.1" rx="1.5" ry="1.5"/>
<ellipse cx="728.1" cy="114.5" rx="1.2" ry="1.2"/>
<ellipse cx="769.8" cy="67.9" rx="2.2" ry="2.2"/>
<circle cx="769.2" cy="70.4" r="1.2"/>
<circle cx="767.3" cy="68.7" r="1.0"/>
<circle cx="769.7" cy="65.7" r="1.1"/>
<circle cx="771.6" cy="68.7" r="1.0"/>
<circle cx="767.3" cy="68.9" r="1.0"/>
<circle cx="769.0" cy="65.7" r="0.9"/>
<circle cx="768.5" cy="68.7" r="1.3"/>
<circle cx="769.8" cy="69.9" r="1.0"/>
<circle cx="770.9" cy="65.6" r="1.2"/>
<circle cx="768.4" cy="67.5" r="1.3"/>
<ellipse cx="771.7" cy="75.2" rx="1.3" ry="3.0"/>
<circle cx="772.7" cy="76.5" r="1.0"/>
<circle cx="771.5" cy="72.1" r="1.0"/>
<circle cx="773.0" cy="73.0" r="0.8"/>
<circle cx="770.9" cy="73.2" r="1.0"/>
<circle cx="770.7" cy="75.7" r="1.2"/>
<circle cx="770.5" cy="72.9" r="1.4"/>
<circle cx="772.9" cy="75.1" r="1.3"/>
<circle cx="770.9" cy="72.6" r="1.4"/>
<ellipse cx="786.4" cy="68.6" rx="1.2" ry="1.2"/>
<ellipse cx="797.2" cy="67.9" rx="1.5" ry="1.5"/>
<ellipse cx="811.9" cy="68.6" rx="1.5" ry="1.5"/>
<ellipse cx="813.2" cy="71.1" rx="1.2" ry="1.2"/>
<ellipse cx="787.0" cy="80.0" rx="1.1" ry="2.0"/>
<circle cx="788.0" cy="80.8" r="1.0"/>
<circle cx="786.6" cy="78.8" r="1.4"/>
<circle cx="787.3" cy="81.7" r="0.9"/>
<circle cx="786.1" cy="81.4" r="0.9"/>
<ellipse cx="797.9" cy="77.7" rx="4.1" ry="2.4"/>
<circle cx="800.0" cy="79.9" r="1.2"/>
<circle cx="797.7" cy="75.8" r="1.3"/>
<circle cx="797.3" cy="75.1" r="0.9"/>
<circle cx="795.3" cy="78.0" r="1.3"/>
<circle cx="802.4" cy="76.8" r="0.8"/>
<circle cx="795.6" cy="79.6" r="1.1"/>
<circle cx="801.4" cy="79.5" r="1.0"/>
<circle cx="795.0" cy="77.7" r="1.1"/>
<circle cx="799.8" cy="78.9" r="1.1"/>
<circle cx="796.7" cy="80.3" r="0.9"/>
<circle cx="795.6" cy="78.6" r="0.9"/>
<circle cx="794.1" cy="78.4" r="1.1"/>
<circle cx="799.6" cy="76.4" r="1.3"/>
<circle cx="800.7" cy="80.2" r="1.1"/>
<circle cx="794.5" cy="79.1" r="1.3"/>
<circle cx="801.4" cy="77.3" r="0.8"/>
<circle cx="800.5" cy="80.0" r="1.2"/>
<circle cx="797.2" cy="76.0" r="1.1"/>
<circle cx="800.7" cy="78.0" r="1.0"/>
<circle cx="802.0" cy="77.2" r="1.3"/>
<ellipse cx="815.1" cy="77.5" rx="2.3" ry="2.3"/>
<ellipse cx="783.2" cy="86.4" rx="1.8" ry="1.8"/>
<ellipse cx="778.1" cy="92.1" rx="2.9" ry="3.9"/>
<circle cx="780.5" cy="93.1" r="0.8"/>
<circle cx="778.0" cy="94.8" r="1.4"/>
<circle cx="776.9" cy="95.3" r="1.2"/>
<circle cx="780.8" cy="89.1" r="1.1"/>
<circle cx="774.7" cy="92.1" r="1.0"/>
<circle cx="777.2" cy="96.1" r="1.0"/>
<circle cx="776.4" cy="94.7" r="1.1"/>
<circle cx="776.5" cy="94.8" r="1.1"/>
<circle cx="781.2" cy="93.5" r="0.8"/>
<circle cx="775.4" cy="91.5" r="1.0"/>
<circle cx="778.5" cy="94.8" r="1.0"/>
<circle cx="777.1" cy="95.4" r="0.9"/>
<circle cx="778.1" cy="88.6" r="0.8"/>
<circle cx="775.2" cy="94.8" r="0.8"/>
<circle cx="775.2" cy="89.5" r="1.0"/>
<circle cx="776.1" cy="90.2" r="1.0"/>
<circle cx="775.9" cy="89.7" r="1.0"/>
<circle cx="775.4" cy="92.2" r="1.3"/>
<circle cx="780.0" cy="93.0" r="1.0"/>
<circle cx="777.7" cy="96.4" r="1.1"/>
<circle cx="779.7" cy="89.5" r="1.0"/>
<circle cx="777.3" cy="89.8" r="1.4"/>
<circle cx="779.3" cy="89.4" r="1.0"/>
<ellipse cx="793.7" cy="89.9" rx="2.4" ry="3.0"/>
<circle cx="794.8" cy="86.8" r="1.2"/>
<circle cx="796.2" cy="91.0" r="0.8"/>
<circle cx="792.0" cy="87.8" r="1.4"/>
<circle cx="792.7" cy="88.4" r="1.4"/>
<circle cx="793.7" cy="86.9" r="0.8"/>
<circle cx="793.5" cy="87.2" r="1.2"/>
<circle cx="796.6" cy="89.5" r="0.8"/>
<circle cx="794.1" cy="87.2" r="1.3"/>
<circle cx="792.1" cy="91.7" r="1.1"/>
<circle cx="795.2" cy="91.5" r="1.2"/>
<circle cx="795.2" cy="90.8" r="1.3"/>
<circle cx="792.5" cy="87.4" r="0.9"/>
<circle cx="795.1" cy="91.5" r="1.4"/>
<circle cx="791.0" cy="88.5" r="0.9"/>
<circle cx="791.7" cy="91.3" r="1.3"/>
<ellipse cx="805.5" cy="91.5" rx="1.5" ry="1.5"/>
<ellipse cx="770.5" cy="97.2" rx="1.8" ry="1.8"/>
<ellipse cx="781.9" cy="99.2" rx="1.5" ry="1.5"/>
<ellipse cx="780.7" cy="103.0" rx="1.2" ry="1.2"/>
<ellipse cx="776.2" cy="102.4" rx="1.2" ry="1.2"/>
<ellipse cx="792.8" cy="96.6" rx="1.5" ry="1.5"/>
<ellipse cx="802.4" cy="96.6" rx="2.1" ry="2.1"/>
<ellipse cx="810.0" cy="97.2" rx="1.5" ry="1.5"/>
<ellipse cx="805.5" cy="103.0" rx="1.5" ry="1.5"/>
<ellipse cx="789.9" cy="106.8" rx="1.9" ry="3.9"/>
<circle cx="791.4" cy="110.0" r="1.1"/>
<circle cx="791.5" cy="107.5" r="1.0"/>
<circle cx="788.8" cy="102.7" r="1.1"/>
<circle cx="789.2" cy="103.7" r="1.3"/>
<circle cx="791.5" cy="109.4" r="0.9"/>
<circle cx="788.6" cy="105.3" r="1.0"/>
<circle cx="790.7" cy="109.6" r="1.2"/>
<circle cx="788.2" cy="106.4" r="1.1"/>
<circle cx="790.7" cy="104.1" r="1.2"/>
<circle cx="787.6" cy="107.4" r="1.0"/>
<circle cx="789.4" cy="104.0" r="1.0"/>
<circle cx="789.6" cy="103.0" r="1.0"/>
<circle cx="791.8" cy="108.5" r="1.0"/>
<circle cx="789.5" cy="103.4" r="1.2"/>
<circle cx="787.7" cy="105.1" r="1.3"/>
<ellipse cx="777.5" cy="110.6" rx="2.0" ry="2.0"/>
<circle cx="775.7" cy="111.1" r="0.9"/>
<circle cx="777.5" cy="109.3" r="1.0"/>
<circle cx="778.2" cy="109.6" r="1.2"/>
<circle cx="775.7" cy="109.8" r="1.0"/>
<circle cx="778.9" cy="112.6" r="1.3"/>
<circle cx="777.9" cy="109.4" r="1.3"/>
<circle cx="777.8" cy="112.1" r="1.1"/>
<circle cx="776.4" cy="109.8" r="1.3"/>
<ellipse cx="799.2" cy="111.3" rx="1.5" ry="1.5"/>
<ellipse cx="804.9" cy="108.7" rx="1.5" ry="1.5"/>
<ellipse cx="809.4" cy="113.8" rx="1.5" ry="1.5"/>
<ellipse cx="789.6" cy="114.5" rx="1.2" ry="1.2"/>
</g><g fill="#6fd36f">
<ellipse cx="728.8" cy="23.0" rx="1.4" ry="1.4"/>
<ellipse cx="725.6" cy="30.0" rx="0.9" ry="0.9"/>
<ellipse cx="721.7" cy="32.6" rx="0.8" ry="0.8"/>
<ellipse cx="738.3" cy="21.7" rx="0.9" ry="0.9"/>
<ellipse cx="740.2" cy="28.8" rx="0.8" ry="0.8"/>
<ellipse cx="751.7" cy="21.7" rx="0.9" ry="0.9"/>
<ellipse cx="761.9" cy="22.4" rx="1.1" ry="1.1"/>
<ellipse cx="759.4" cy="28.1" rx="1.7" ry="1.7"/>
<ellipse cx="757.5" cy="35.1" rx="1.1" ry="1.1"/>
<ellipse cx="760.0" cy="37.0" rx="0.9" ry="0.9"/>
<ellipse cx="767.7" cy="30.7" rx="0.8" ry="0.8"/>
<ellipse cx="767.0" cy="42.1" rx="0.9" ry="0.9"/>
<ellipse cx="765.1" cy="46.0" rx="0.9" ry="0.9"/>
<ellipse cx="745.3" cy="39.0" rx="1.9" ry="1.9"/>
<ellipse cx="749.2" cy="43.4" rx="2.3" ry="2.3"/>
<ellipse cx="753.0" cy="47.9" rx="2.4" ry="2.4"/>
<ellipse cx="756.8" cy="50.4" rx="2.1" ry="2.1"/>
<ellipse cx="755.5" cy="56.8" rx="1.7" ry="1.7"/>
<ellipse cx="754.9" cy="62.6" rx="1.8" ry="1.8"/>
<ellipse cx="760.0" cy="47.9" rx="1.1" ry="1.1"/>
<ellipse cx="744.7" cy="46.0" rx="1.2" ry="1.2"/>
<ellipse cx="754.3" cy="66.4" rx="1.1" ry="1.1"/>
<ellipse cx="723.7" cy="49.8" rx="1.1" ry="1.1"/>
<ellipse cx="728.1" cy="54.3" rx="1.2" ry="1.2"/>
<ellipse cx="729.4" cy="57.5" rx="0.9" ry="0.9"/>
<ellipse cx="736.4" cy="61.9" rx="0.8" ry="0.8"/>
<ellipse cx="769.6" cy="65.1" rx="1.9" ry="1.9"/>
<ellipse cx="766.4" cy="68.3" rx="1.1" ry="1.1"/>
<ellipse cx="727.1" cy="50.4" rx="1.0" ry="1.0"/>
<ellipse cx="728.3" cy="55.8" rx="0.9" ry="0.9"/>
<ellipse cx="723.4" cy="22.6" rx="0.9" ry="0.9"/>
<ellipse cx="728.3" cy="24.9" rx="1.0" ry="1.0"/>
<ellipse cx="724.6" cy="30.8" rx="0.9" ry="0.9"/>
<ellipse cx="752.9" cy="48.7" rx="2.5" ry="2.5"/>
<ellipse cx="745.5" cy="40.6" rx="1.6" ry="1.6"/>
<ellipse cx="750.4" cy="44.3" rx="1.7" ry="1.7"/>
<ellipse cx="756.6" cy="47.5" rx="1.6" ry="1.6"/>
<ellipse cx="761.7" cy="45.0" rx="1.2" ry="1.2"/>
<ellipse cx="764.5" cy="41.3" rx="1.0" ry="1.0"/>
<ellipse cx="754.1" cy="52.9" rx="1.5" ry="1.5"/>
<ellipse cx="752.9" cy="59.0" rx="1.4" ry="1.4"/>
<ellipse cx="754.1" cy="64.0" rx="1.1" ry="1.1"/>
<ellipse cx="807.5" cy="33.7" rx="1.7" ry="1.7"/>
<ellipse cx="811.4" cy="39.6" rx="1.1" ry="1.1"/>
<ellipse cx="804.0" cy="39.6" rx="1.0" ry="1.0"/>
<ellipse cx="798.6" cy="48.0" rx="1.5" ry="1.5"/>
<ellipse cx="795.2" cy="51.9" rx="0.9" ry="0.9"/>
<ellipse cx="808.5" cy="50.4" rx="1.1" ry="1.1"/>
<ellipse cx="796.2" cy="59.3" rx="1.1" ry="1.1"/>
<ellipse cx="804.5" cy="61.7" rx="0.9" ry="0.9"/>
<ellipse cx="741.8" cy="81.2" rx="1.5" ry="1.5"/>
<ellipse cx="749.7" cy="82.4" rx="1.1" ry="1.1"/>
<ellipse cx="754.6" cy="86.3" rx="1.4" ry="1.4"/>
<ellipse cx="777.5" cy="92.2" rx="1.5" ry="1.5"/>
<ellipse cx="776.5" cy="98.4" rx="0.9" ry="0.9"/>
<ellipse cx="768.9" cy="66.4" rx="1.5" ry="1.5"/>
<ellipse cx="772.6" cy="61.7" rx="0.9" ry="0.9"/>
<ellipse cx="771.6" cy="75.0" rx="0.9" ry="0.9"/>
<ellipse cx="752.9" cy="99.6" rx="1.4" ry="1.4"/>
<ellipse cx="799.6" cy="77.5" rx="1.1" ry="1.1"/>
<ellipse cx="793.7" cy="88.8" rx="0.9" ry="0.9"/>
<ellipse cx="796.0" cy="21.1" rx="0.9" ry="0.9"/>
<ellipse cx="776.2" cy="26.2" rx="0.8" ry="0.8"/>
<ellipse cx="773.7" cy="31.9" rx="0.8" ry="0.8"/>
<ellipse cx="783.2" cy="28.8" rx="1.5" ry="1.5"/>
<ellipse cx="790.9" cy="28.8" rx="0.8" ry="1.4"/>
<ellipse cx="796.6" cy="31.6" rx="0.8" ry="2.0"/>
<ellipse cx="789.2" cy="37.3" rx="0.8" ry="2.1"/>
<ellipse cx="807.5" cy="35.8" rx="3.1" ry="3.7"/>
<ellipse cx="767.3" cy="43.4" rx="0.9" ry="0.9"/>
<ellipse cx="781.9" cy="43.4" rx="1.4" ry="1.4"/>
<ellipse cx="785.1" cy="51.1" rx="0.9" ry="0.9"/>
<ellipse cx="799.2" cy="50.2" rx="2.3" ry="2.4"/>
<ellipse cx="800.4" cy="56.2" rx="0.8" ry="0.8"/>
<ellipse cx="793.4" cy="50.4" rx="0.8" ry="0.8"/>
<ellipse cx="808.7" cy="50.4" rx="1.9" ry="1.9"/>
<ellipse cx="791.5" cy="57.5" rx="0.8" ry="0.8"/>
<ellipse cx="796.0" cy="60.6" rx="1.1" ry="2.6"/>
<ellipse cx="804.5" cy="62.8" rx="1.3" ry="2.1"/>
<ellipse cx="773.0" cy="60.6" rx="0.8" ry="0.8"/>
<ellipse cx="769.8" cy="65.7" rx="1.9" ry="1.9"/>
<ellipse cx="736.4" cy="69.8" rx="0.8" ry="0.8"/>
<ellipse cx="740.2" cy="72.4" rx="0.9" ry="0.9"/>
<ellipse cx="735.1" cy="76.8" rx="0.8" ry="0.8"/>
<ellipse cx="753.0" cy="67.3" rx="0.8" ry="0.8"/>
<ellipse cx="767.0" cy="69.8" rx="1.9" ry="1.9"/>
<ellipse cx="771.5" cy="74.9" rx="0.8" ry="0.8"/>
<ellipse cx="742.1" cy="83.2" rx="2.1" ry="2.9"/>
<ellipse cx="749.8" cy="82.2" rx="1.5" ry="2.4"/>
<ellipse cx="755.3" cy="86.2" rx="2.1" ry="2.4"/>
<ellipse cx="723.0" cy="83.9" rx="0.8" ry="0.8"/>
<ellipse cx="728.1" cy="84.5" rx="0.9" ry="0.9"/>
<ellipse cx="747.9" cy="89.6" rx="0.8" ry="0.8"/>
<ellipse cx="733.2" cy="92.8" rx="0.9" ry="0.9"/>
<ellipse cx="721.7" cy="97.9" rx="1.1" ry="1.1"/>
<ellipse cx="762.6" cy="93.4" rx="0.9" ry="0.9"/>
<ellipse cx="770.2" cy="96.6" rx="0.9" ry="0.9"/>
<ellipse cx="752.4" cy="100.4" rx="2.1" ry="2.6"/>
<ellipse cx="763.2" cy="102.4" rx="0.8" ry="0.8"/>
<ellipse cx="762.6" cy="110.0" rx="1.4" ry="1.4"/>
<ellipse cx="721.7" cy="115.1" rx="0.8" ry="0.8"/>
<ellipse cx="769.8" cy="67.9" rx="1.5" ry="1.5"/>
<ellipse cx="771.7" cy="75.2" rx="0.9" ry="2.1"/>
<ellipse cx="797.2" cy="67.9" rx="0.8" ry="0.8"/>
<ellipse cx="811.9" cy="68.6" rx="0.8" ry="0.8"/>
<ellipse cx="787.0" cy="80.0" rx="0.8" ry="1.4"/>
<ellipse cx="797.9" cy="77.7" rx="2.8" ry="1.7"/>
<ellipse cx="815.1" cy="77.5" rx="1.1" ry="1.1"/>
<ellipse cx="783.2" cy="86.4" rx="0.9" ry="0.9"/>
<ellipse cx="778.1" cy="92.1" rx="2.0" ry="2.7"/>
<ellipse cx="793.7" cy="89.9" rx="1.7" ry="2.1"/>
<ellipse cx="805.5" cy="91.5" rx="0.8" ry="0.8"/>
<ellipse cx="770.5" cy="97.2" rx="0.9" ry="0.9"/>
<ellipse cx="781.9" cy="99.2" rx="0.8" ry="0.8"/>
<ellipse cx="792.8" cy="96.6" rx="0.8" ry="0.8"/>
<ellipse cx="802.4" cy="96.6" rx="1.1" ry="1.1"/>
<ellipse cx="810.0" cy="97.2" rx="0.8" ry="0.8"/>
<ellipse cx="805.5" cy="103.0" rx="0.8" ry="0.8"/>
<ellipse cx="789.9" cy="106.8" rx="1.3" ry="2.7"/>
<ellipse cx="777.5" cy="110.6" rx="1.4" ry="1.4"/>
<ellipse cx="799.2" cy="111.3" rx="0.8" ry="0.8"/>
<ellipse cx="804.9" cy="108.7" rx="0.8" ry="0.8"/>
<ellipse cx="809.4" cy="113.8" rx="0.8" ry="0.8"/>
</g></g>
<text x="3.70" y="188.70" font-size="10.2" font-weight="bold" fill="#111" textLength="7.50" lengthAdjust="spacingAndGlyphs">B</text>
<text x="136.40" y="196.10" font-size="11.6" font-weight="bold" fill="#111" textLength="46.00" lengthAdjust="spacingAndGlyphs">Aerobic</text>
<text x="387.20" y="196.10" font-size="11.6" font-weight="bold" fill="#111" textLength="40.80" lengthAdjust="spacingAndGlyphs">Anoxic</text>
<text x="33.50" y="392.40" font-size="8.2" font-weight="bold" fill="#111" textLength="195.60" lengthAdjust="spacingAndGlyphs" transform="rotate(-90 33.50 392.40)">Median FL-1 fluorescence signal intensity  (100</text>
<text x="43.60" y="370.10" font-size="8.2" font-weight="bold" fill="#111" textLength="150.90" lengthAdjust="spacingAndGlyphs" transform="rotate(-90 43.60 370.10)">µg/ml Alexa-488 conjugated Elk 3.51)</text>
<rect x="77.5" y="362.1" width="7.2" height="2.5" rx="1.2" fill="#111"/>
<rect x="86.2" y="362.1" width="7.2" height="2.5" rx="1.2" fill="#111"/>
<rect x="94.9" y="362.1" width="7.2" height="2.5" rx="1.2" fill="#111"/>
<rect x="103.6" y="362.1" width="7.2" height="2.5" rx="1.2" fill="#111"/>
<rect x="118.1" y="362.1" width="7.2" height="2.5" rx="1.2" fill="#111"/>
<rect x="126.8" y="362.1" width="7.2" height="2.5" rx="1.2" fill="#111"/>
<rect x="135.5" y="362.1" width="7.2" height="2.5" rx="1.2" fill="#111"/>
<path d="M147.8 353.1V350.4M145.2 350.4H150.4" stroke="#0c0c0c" stroke-width="1.85" fill="none"/>
<rect x="145.00" y="353.88" width="5.60" height="10.72" fill="#3d50a5" stroke="#0c0c0c" stroke-width="1.6"/>
<rect x="158.7" y="362.1" width="7.2" height="2.5" rx="1.2" fill="#111"/>
<rect x="167.4" y="362.1" width="7.2" height="2.5" rx="1.2" fill="#111"/>
<rect x="176.1" y="362.1" width="7.2" height="2.5" rx="1.2" fill="#111"/>
<path d="M188.4 341.9V326.7M185.8 326.7H191.0" stroke="#0c0c0c" stroke-width="1.85" fill="none"/>
<rect x="185.60" y="342.71" width="5.60" height="21.89" fill="#3d50a5" stroke="#0c0c0c" stroke-width="1.6"/>
<rect x="199.3" y="362.1" width="7.2" height="2.5" rx="1.2" fill="#111"/>
<rect x="208.0" y="362.1" width="7.2" height="2.5" rx="1.2" fill="#111"/>
<rect x="216.7" y="362.1" width="7.2" height="2.5" rx="1.2" fill="#111"/>
<path d="M229.0 313.8V286.7M226.4 286.7H231.6" stroke="#0c0c0c" stroke-width="1.85" fill="none"/>
<rect x="226.20" y="314.60" width="5.60" height="50.01" fill="#3d50a5" stroke="#0c0c0c" stroke-width="1.6"/>
<rect x="239.9" y="362.1" width="7.2" height="2.5" rx="1.2" fill="#111"/>
<rect x="248.6" y="362.1" width="7.2" height="2.5" rx="1.2" fill="#111"/>
<path d="M260.9 359.5V357.1M258.3 357.1H263.5" stroke="#0c0c0c" stroke-width="1.85" fill="none"/>
<rect x="258.10" y="360.32" width="5.60" height="4.28" fill="#e93545" stroke="#0c0c0c" stroke-width="1.6"/>
<path d="M269.6 288.7V249.4M267.0 249.4H272.2" stroke="#0c0c0c" stroke-width="1.85" fill="none"/>
<rect x="266.80" y="289.53" width="5.60" height="75.07" fill="#3d50a5" stroke="#0c0c0c" stroke-width="1.6"/>
<path d="M73.4 228.4V365.3" stroke="#111" stroke-width="1.4"/>
<path d="M72.7 364.6H276.0" stroke="#111" stroke-width="1.5"/>
<path d="M69.0 364.6H73.4" stroke="#111" stroke-width="1.3"/>
<text x="66.60" y="367.40" font-size="8.4" font-weight="bold" fill="#111" text-anchor="end">0</text>
<path d="M69.0 330.7H73.4" stroke="#111" stroke-width="1.3"/>
<text x="66.60" y="333.53" font-size="8.4" font-weight="bold" fill="#111" text-anchor="end">100</text>
<path d="M69.0 296.9H73.4" stroke="#111" stroke-width="1.3"/>
<text x="66.60" y="299.66" font-size="8.4" font-weight="bold" fill="#111" text-anchor="end">200</text>
<path d="M69.0 263.0H73.4" stroke="#111" stroke-width="1.3"/>
<text x="66.60" y="265.79" font-size="8.4" font-weight="bold" fill="#111" text-anchor="end">300</text>
<path d="M69.0 229.1H73.4" stroke="#111" stroke-width="1.3"/>
<text x="66.60" y="231.92" font-size="8.4" font-weight="bold" fill="#111" text-anchor="end">400</text>
<text x="94.9" y="375.8" font-size="8.9" font-weight="bold" fill="#111" text-anchor="middle" transform="rotate(-45 94.9 375.8)" dy="3">0</text>
<text x="135.2" y="375.8" font-size="8.9" font-weight="bold" fill="#111" text-anchor="middle" transform="rotate(-45 135.2 375.8)" dy="3">2</text>
<text x="176.6" y="375.8" font-size="8.9" font-weight="bold" fill="#111" text-anchor="middle" transform="rotate(-45 176.6 375.8)" dy="3">5</text>
<text x="215.9" y="375.8" font-size="8.9" font-weight="bold" fill="#111" text-anchor="middle" transform="rotate(-45 215.9 375.8)" dy="3">10</text>
<text x="257.3" y="375.8" font-size="8.9" font-weight="bold" fill="#111" text-anchor="middle" transform="rotate(-45 257.3 375.8)" dy="3">20</text>
<text x="91.70" y="399.60" font-size="11.4" font-weight="bold" fill="#111" textLength="149.50" lengthAdjust="spacingAndGlyphs">EF5 concentration (µM, 2h)</text>
<rect x="319.3" y="362.9" width="7.4" height="2.5" rx="1.2" fill="#111"/>
<rect x="328.3" y="362.9" width="7.4" height="2.5" rx="1.2" fill="#111"/>
<rect x="337.2" y="362.9" width="7.4" height="2.5" rx="1.2" fill="#111"/>
<rect x="346.2" y="362.9" width="7.4" height="2.5" rx="1.2" fill="#111"/>
<rect x="361.2" y="362.9" width="7.4" height="2.5" rx="1.2" fill="#111"/>
<path d="M373.9 362.2V361.9M371.3 361.9H376.5" stroke="#0c0c0c" stroke-width="1.85" fill="none"/>
<rect x="371.00" y="363.05" width="5.80" height="2.35" fill="#2f8d54" stroke="#0c0c0c" stroke-width="1.6"/>
<path d="M382.9 362.4V362.1M380.2 362.1H385.5" stroke="#0c0c0c" stroke-width="1.85" fill="none"/>
<rect x="379.95" y="363.22" width="5.80" height="2.18" fill="#e93545" stroke="#0c0c0c" stroke-width="1.6"/>
<path d="M391.8 357.3V356.3M389.2 356.3H394.4" stroke="#0c0c0c" stroke-width="1.85" fill="none"/>
<rect x="388.90" y="358.15" width="5.80" height="7.25" fill="#3d50a5" stroke="#0c0c0c" stroke-width="1.6"/>
<rect x="404.00" y="364.27" width="5.80" height="1.13" fill="#0a0a0a" stroke="#0c0c0c" stroke-width="1.6"/>
<path d="M415.9 359.4V357.0M413.2 357.0H418.5" stroke="#0c0c0c" stroke-width="1.85" fill="none"/>
<rect x="412.95" y="360.25" width="5.80" height="5.15" fill="#2f8d54" stroke="#0c0c0c" stroke-width="1.6"/>
<path d="M424.8 358.8V357.7M422.2 357.7H427.4" stroke="#0c0c0c" stroke-width="1.85" fill="none"/>
<rect x="421.90" y="359.55" width="5.80" height="5.85" fill="#e93545" stroke="#0c0c0c" stroke-width="1.6"/>
<path d="M433.8 338.8V332.1M431.1 332.1H436.4" stroke="#0c0c0c" stroke-width="1.85" fill="none"/>
<rect x="430.85" y="339.60" width="5.80" height="25.80" fill="#3d50a5" stroke="#0c0c0c" stroke-width="1.6"/>
<rect x="445.95" y="363.57" width="5.80" height="1.82" fill="#0a0a0a" stroke="#0c0c0c" stroke-width="1.6"/>
<path d="M457.8 355.2V352.4M455.2 352.4H460.4" stroke="#0c0c0c" stroke-width="1.85" fill="none"/>
<rect x="454.90" y="356.05" width="5.80" height="9.35" fill="#2f8d54" stroke="#0c0c0c" stroke-width="1.6"/>
<path d="M466.8 354.2V352.1M464.2 352.1H469.4" stroke="#0c0c0c" stroke-width="1.85" fill="none"/>
<rect x="463.85" y="355.00" width="5.80" height="10.40" fill="#e93545" stroke="#0c0c0c" stroke-width="1.6"/>
<path d="M475.7 313.6V295.8M473.1 295.8H478.3" stroke="#0c0c0c" stroke-width="1.85" fill="none"/>
<rect x="472.80" y="314.40" width="5.80" height="51.00" fill="#3d50a5" stroke="#0c0c0c" stroke-width="1.6"/>
<path d="M490.8 361.5V360.8M488.2 360.8H493.4" stroke="#0c0c0c" stroke-width="1.85" fill="none"/>
<rect x="487.90" y="362.35" width="5.80" height="3.05" fill="#0a0a0a" stroke="#0c0c0c" stroke-width="1.6"/>
<path d="M499.8 346.1V340.2M497.2 340.2H502.4" stroke="#0c0c0c" stroke-width="1.85" fill="none"/>
<rect x="496.85" y="346.95" width="5.80" height="18.45" fill="#2f8d54" stroke="#0c0c0c" stroke-width="1.6"/>
<path d="M508.7 346.1V342.3M506.1 342.3H511.3" stroke="#0c0c0c" stroke-width="1.85" fill="none"/>
<rect x="505.80" y="346.95" width="5.80" height="18.45" fill="#e93545" stroke="#0c0c0c" stroke-width="1.6"/>
<path d="M517.7 300.3V281.4M515.1 281.4H520.3" stroke="#0c0c0c" stroke-width="1.85" fill="none"/>
<rect x="514.75" y="301.10" width="5.80" height="64.30" fill="#3d50a5" stroke="#0c0c0c" stroke-width="1.6"/>
<path d="M315.6 224.7V366.1" stroke="#111" stroke-width="1.4"/>
<path d="M314.90000000000003 365.4H524.2" stroke="#111" stroke-width="1.5"/>
<path d="M311.20000000000005 365.4H315.6" stroke="#111" stroke-width="1.3"/>
<text x="307.50" y="368.20" font-size="8.4" font-weight="bold" fill="#111" text-anchor="end">0</text>
<path d="M311.20000000000005 330.4H315.6" stroke="#111" stroke-width="1.3"/>
<text x="307.50" y="333.20" font-size="8.4" font-weight="bold" fill="#111" text-anchor="end">100</text>
<path d="M311.20000000000005 295.4H315.6" stroke="#111" stroke-width="1.3"/>
<text x="307.50" y="298.20" font-size="8.4" font-weight="bold" fill="#111" text-anchor="end">200</text>
<path d="M311.20000000000005 260.4H315.6" stroke="#111" stroke-width="1.3"/>
<text x="307.50" y="263.20" font-size="8.4" font-weight="bold" fill="#111" text-anchor="end">300</text>
<path d="M311.20000000000005 225.4H315.6" stroke="#111" stroke-width="1.3"/>
<text x="307.50" y="228.20" font-size="8.4" font-weight="bold" fill="#111" text-anchor="end">400</text>
<text x="337.6" y="377.3" font-size="8.9" font-weight="bold" fill="#111" text-anchor="middle" transform="rotate(-45 337.6 377.3)" dy="3">0</text>
<text x="379.0" y="377.3" font-size="8.9" font-weight="bold" fill="#111" text-anchor="middle" transform="rotate(-45 379.0 377.3)" dy="3">2</text>
<text x="421.2" y="377.3" font-size="8.9" font-weight="bold" fill="#111" text-anchor="middle" transform="rotate(-45 421.2 377.3)" dy="3">5</text>
<text x="462.0" y="377.3" font-size="8.9" font-weight="bold" fill="#111" text-anchor="middle" transform="rotate(-45 462.0 377.3)" dy="3">10</text>
<text x="502.6" y="377.3" font-size="8.9" font-weight="bold" fill="#111" text-anchor="middle" transform="rotate(-45 502.6 377.3)" dy="3">20</text>
<text x="334.40" y="401.00" font-size="11.4" font-weight="bold" fill="#111" textLength="154.10" lengthAdjust="spacingAndGlyphs">EF5 concentration (µM, 2h)</text>
<rect x="86.2" y="226.0" width="14.4" height="7.4" fill="#0a0a0a" stroke="#111" stroke-width="1.4"/>
<text x="109.30" y="231.70" font-size="9.2" font-weight="normal" fill="#111" textLength="15.50" lengthAdjust="spacingAndGlyphs">WT</text>
<rect x="86.2" y="241.8" width="14.4" height="7.4" fill="#2f8d54" stroke="#111" stroke-width="1.4"/>
<text x="109.30" y="247.45" font-size="9.2" font-weight="normal" fill="#111" textLength="20.30" lengthAdjust="spacingAndGlyphs">POR</text>
<rect x="86.2" y="257.5" width="14.4" height="7.4" fill="#e93545" stroke="#111" stroke-width="1.4"/>
<text x="109.30" y="263.20" font-size="9.2" font-weight="normal" fill="#111" textLength="34.30" lengthAdjust="spacingAndGlyphs">NfsB_Ec</text>
<rect x="86.2" y="273.2" width="14.4" height="7.4" fill="#3d50a5" stroke="#111" stroke-width="1.4"/>
<text x="109.30" y="278.95" font-size="9.2" font-weight="normal" fill="#111" textLength="34.30" lengthAdjust="spacingAndGlyphs">NfsA_Ec</text>
<text x="529.90" y="188.70" font-size="10.2" font-weight="bold" fill="#111" textLength="8.00" lengthAdjust="spacingAndGlyphs">C</text>
<path d="M608.7 330.2H626.7" stroke="#111" stroke-width="1.8" fill="none"/>
<rect x="600.70" y="331.21" width="34.00" height="5.49" fill="#0a0a0a" stroke="#111" stroke-width="1.5"/>
<path d="M668.1 237.0V214.3M658.8 214.3H677.4" stroke="#111" stroke-width="1.9" fill="none"/>
<rect x="651.10" y="237.78" width="34.00" height="98.92" fill="#3d50a5" stroke="#111" stroke-width="1.5"/>
<path d="M709.5 334.6H727.5" stroke="#111" stroke-width="1.8" fill="none"/>
<rect x="701.50" y="335.69" width="34.00" height="1.01" fill="#0a0a0a" stroke="#111" stroke-width="1.5"/>
<path d="M769.0 254.5V227.9M759.7 227.9H778.3" stroke="#111" stroke-width="1.9" fill="none"/>
<rect x="752.00" y="255.28" width="34.00" height="81.42" fill="#3d50a5" stroke="#111" stroke-width="1.5"/>
<path d="M592.5 200.4V337.45" stroke="#111" stroke-width="1.5"/>
<path d="M591.8 336.7H795" stroke="#111" stroke-width="1.6"/>
<path d="M587.6 336.7H592.5" stroke="#111" stroke-width="1.4"/>
<text x="586.30" y="339.80" font-size="8.5" font-weight="bold" fill="#111" text-anchor="end">0</text>
<path d="M587.6 309.6H592.5" stroke="#111" stroke-width="1.4"/>
<text x="586.30" y="312.68" font-size="8.5" font-weight="bold" fill="#111" text-anchor="end">2</text>
<path d="M587.6 282.5H592.5" stroke="#111" stroke-width="1.4"/>
<text x="586.30" y="285.56" font-size="8.5" font-weight="bold" fill="#111" text-anchor="end">4</text>
<path d="M587.6 255.3H592.5" stroke="#111" stroke-width="1.4"/>
<text x="586.30" y="258.44" font-size="8.5" font-weight="bold" fill="#111" text-anchor="end">6</text>
<path d="M587.6 228.2H592.5" stroke="#111" stroke-width="1.4"/>
<text x="586.30" y="231.32" font-size="8.5" font-weight="bold" fill="#111" text-anchor="end">8</text>
<path d="M587.6 201.1H592.5" stroke="#111" stroke-width="1.4"/>
<text x="586.30" y="204.20" font-size="8.5" font-weight="bold" fill="#111" text-anchor="end">10</text>
<text x="556.20" y="308.40" font-size="8.3" font-weight="bold" fill="#111" textLength="80.80" lengthAdjust="spacingAndGlyphs" transform="rotate(-90 556.20 308.40)">Rate of EF5 binding</text>
<text x="565.20" y="299.70" font-size="8.3" font-weight="bold" fill="#111" textLength="65.10" lengthAdjust="spacingAndGlyphs" transform="rotate(-90 565.20 299.70)">(amol/cell/h/µM)</text>
<text x="619.80" y="359.40" font-size="10.2" font-weight="bold" fill="#111" textLength="15.60" lengthAdjust="spacingAndGlyphs" transform="rotate(-90 619.80 359.40)">WT</text>
<text x="670.50" y="391.40" font-size="10.2" font-weight="bold" fill="#111" textLength="45.10" lengthAdjust="spacingAndGlyphs" transform="rotate(-90 670.50 391.40)">NfsA_Ec</text>
<text x="720.70" y="359.40" font-size="10.2" font-weight="bold" fill="#111" textLength="15.60" lengthAdjust="spacingAndGlyphs" transform="rotate(-90 720.70 359.40)">WT</text>
<text x="771.10" y="391.40" font-size="10.2" font-weight="bold" fill="#111" textLength="45.10" lengthAdjust="spacingAndGlyphs" transform="rotate(-90 771.10 391.40)">NfsA_Ec</text>
<path d="M613.5 400.1H676.1M711.1 400.1H774.3" stroke="#111" stroke-width="1.7"/>
<text x="628.10" y="418.50" font-size="10.2" font-weight="bold" fill="#111" textLength="34.30" lengthAdjust="spacingAndGlyphs">Anoxic</text>
<text x="729.40" y="418.50" font-size="10.2" font-weight="bold" fill="#111" textLength="21.90" lengthAdjust="spacingAndGlyphs">Oxic</text>
</svg>
</body>
</html>
